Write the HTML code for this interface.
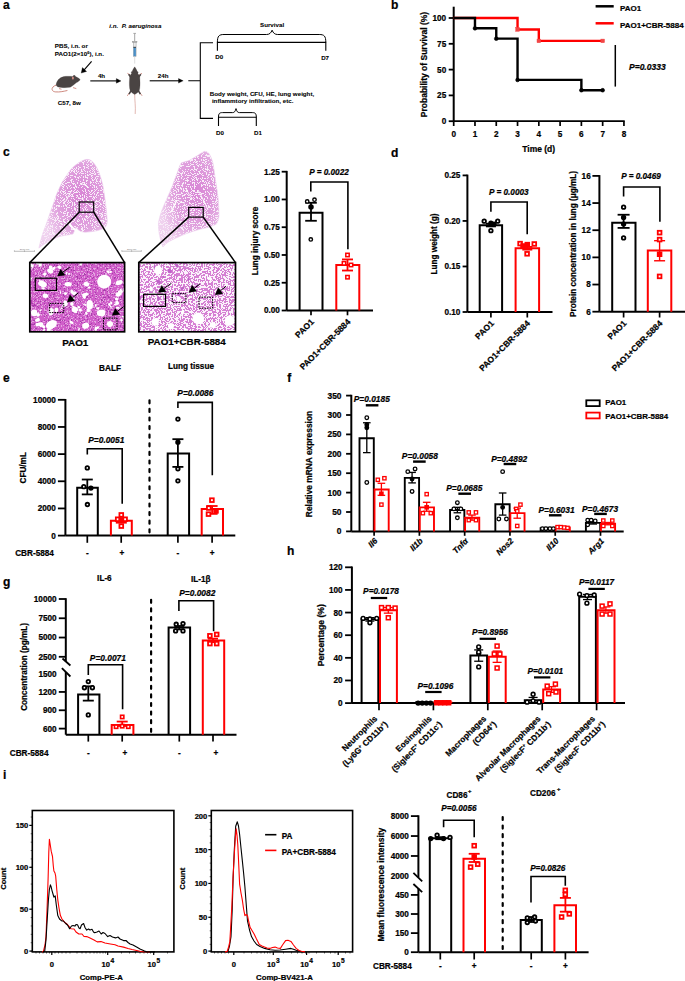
<!DOCTYPE html>
<html><head><meta charset="utf-8"><style>
html,body{margin:0;padding:0;background:#fff;}
body{width:685px;height:981px;overflow:hidden;}
svg{display:block;font-family:"Liberation Sans", sans-serif;font-weight:bold;}
text{stroke:currentColor;stroke-width:0.22px;paint-order:stroke;}
</style></head><body>
<svg width="685" height="981" viewBox="0 0 685 981">
<rect width="685" height="981" fill="#fff"/>
<text x="3" y="8.8" font-size="12" text-anchor="start" fill="#000">a</text>
<text x="391" y="8.8" font-size="12" text-anchor="start" fill="#000">b</text>
<text x="3" y="155.5" font-size="12" text-anchor="start" fill="#000">c</text>
<text x="391" y="156.5" font-size="12" text-anchor="start" fill="#000">d</text>
<text x="3" y="381.5" font-size="12" text-anchor="start" fill="#000">e</text>
<text x="287.3" y="381.5" font-size="12" text-anchor="start" fill="#000">f</text>
<text x="3" y="585.5" font-size="12" text-anchor="start" fill="#000">g</text>
<text x="287" y="554.5" font-size="12" text-anchor="start" fill="#000">h</text>
<text x="3" y="779" font-size="12" text-anchor="start" fill="#000">i</text>
<line x1="453.7" y1="6.7" x2="453.7" y2="121.2" stroke="#000" stroke-width="2"/>
<line x1="448.7" y1="121.2" x2="453.7" y2="121.2" stroke="#000" stroke-width="1.8"/>
<text x="446.2" y="124.15" font-size="8.2" text-anchor="end" fill="#000">0</text>
<line x1="448.7" y1="95.4" x2="453.7" y2="95.4" stroke="#000" stroke-width="1.8"/>
<text x="446.2" y="98.35" font-size="8.2" text-anchor="end" fill="#000">25</text>
<line x1="448.7" y1="69.6" x2="453.7" y2="69.6" stroke="#000" stroke-width="1.8"/>
<text x="446.2" y="72.55" font-size="8.2" text-anchor="end" fill="#000">50</text>
<line x1="448.7" y1="43.8" x2="453.7" y2="43.8" stroke="#000" stroke-width="1.8"/>
<text x="446.2" y="46.75" font-size="8.2" text-anchor="end" fill="#000">75</text>
<line x1="448.7" y1="18" x2="453.7" y2="18" stroke="#000" stroke-width="1.8"/>
<text x="446.2" y="20.95" font-size="8.2" text-anchor="end" fill="#000">100</text>
<line x1="453.7" y1="121.2" x2="624.74" y2="121.2" stroke="#000" stroke-width="1.7"/>
<line x1="453.7" y1="121.2" x2="453.7" y2="126" stroke="#000" stroke-width="1.7"/>
<text x="453.7" y="136.8" font-size="8.2" text-anchor="middle" fill="#000">0</text>
<line x1="474.98" y1="121.2" x2="474.98" y2="126" stroke="#000" stroke-width="1.7"/>
<text x="474.98" y="136.8" font-size="8.2" text-anchor="middle" fill="#000">1</text>
<line x1="496.26" y1="121.2" x2="496.26" y2="126" stroke="#000" stroke-width="1.7"/>
<text x="496.26" y="136.8" font-size="8.2" text-anchor="middle" fill="#000">2</text>
<line x1="517.54" y1="121.2" x2="517.54" y2="126" stroke="#000" stroke-width="1.7"/>
<text x="517.54" y="136.8" font-size="8.2" text-anchor="middle" fill="#000">3</text>
<line x1="538.82" y1="121.2" x2="538.82" y2="126" stroke="#000" stroke-width="1.7"/>
<text x="538.82" y="136.8" font-size="8.2" text-anchor="middle" fill="#000">4</text>
<line x1="560.1" y1="121.2" x2="560.1" y2="126" stroke="#000" stroke-width="1.7"/>
<text x="560.1" y="136.8" font-size="8.2" text-anchor="middle" fill="#000">5</text>
<line x1="581.38" y1="121.2" x2="581.38" y2="126" stroke="#000" stroke-width="1.7"/>
<text x="581.38" y="136.8" font-size="8.2" text-anchor="middle" fill="#000">6</text>
<line x1="602.66" y1="121.2" x2="602.66" y2="126" stroke="#000" stroke-width="1.7"/>
<text x="602.66" y="136.8" font-size="8.2" text-anchor="middle" fill="#000">7</text>
<line x1="623.94" y1="121.2" x2="623.94" y2="126" stroke="#000" stroke-width="1.7"/>
<text x="623.94" y="136.8" font-size="8.2" text-anchor="middle" fill="#000">8</text>
<text x="538.7" y="151.8" font-size="8.5" text-anchor="middle" fill="#000">Time (d)</text>
<text x="427.3" y="64.5" font-size="8.5" text-anchor="middle" fill="#000" transform="rotate(-90 427.3 64.5)">Probability of Survival (%)</text>
<path d="M453.7 18 L517.54 18 L517.54 29.46 L538.82 29.46 L538.82 40.91 L602.66 40.91" stroke="#ff0000" stroke-width="2.4" fill="none"/>
<rect x="515.74" y="27.66" width="3.6" height="3.6" stroke="#f24646" stroke-width="0.5" fill="#f24646"/>
<rect x="537.02" y="39.11" width="3.6" height="3.6" stroke="#f24646" stroke-width="0.5" fill="#f24646"/>
<rect x="600.86" y="39.11" width="3.6" height="3.6" stroke="#f24646" stroke-width="0.5" fill="#f24646"/>
<path d="M453.7 18 L474.98 18 L474.98 28.32 L496.26 28.32 L496.26 38.64 L517.54 38.64 L517.54 79.92 L581.38 79.92 L581.38 90.24 L602.66 90.24" stroke="#000" stroke-width="2.4" fill="none"/>
<circle cx="474.98" cy="28.32" r="1.87" stroke="#000" stroke-width="0.6" fill="#000"/>
<circle cx="496.26" cy="38.64" r="1.87" stroke="#000" stroke-width="0.6" fill="#000"/>
<circle cx="517.54" cy="79.92" r="1.87" stroke="#000" stroke-width="0.6" fill="#000"/>
<circle cx="581.38" cy="90.24" r="1.87" stroke="#000" stroke-width="0.6" fill="#000"/>
<circle cx="602.66" cy="90.24" r="1.87" stroke="#000" stroke-width="0.6" fill="#000"/>
<line x1="595.6" y1="6.3" x2="613.7" y2="6.3" stroke="#000" stroke-width="2.5"/>
<text x="620" y="10.9" font-size="8" text-anchor="start" fill="#000">PAO1</text>
<line x1="595.6" y1="23.3" x2="613.7" y2="23.3" stroke="#ff0000" stroke-width="2.5"/>
<text x="620" y="27.9" font-size="8" text-anchor="start" fill="#000">PAO1+CBR-5884</text>
<line x1="615.3" y1="45" x2="615.3" y2="86.6" stroke="#000" stroke-width="1.5"/>
<text x="629" y="70.3" font-size="8.5" text-anchor="start" font-style="italic" fill="#000">P=0.0333</text>
<line x1="286.7" y1="170.9" x2="286.7" y2="310.5" stroke="#000" stroke-width="2"/>
<line x1="281.7" y1="310.5" x2="286.7" y2="310.5" stroke="#000" stroke-width="1.8"/>
<text x="279.9" y="313.45" font-size="8.2" text-anchor="end" fill="#000">0.00</text>
<line x1="281.7" y1="282.74" x2="286.7" y2="282.74" stroke="#000" stroke-width="1.8"/>
<text x="279.9" y="285.69" font-size="8.2" text-anchor="end" fill="#000">0.25</text>
<line x1="281.7" y1="254.98" x2="286.7" y2="254.98" stroke="#000" stroke-width="1.8"/>
<text x="279.9" y="257.93" font-size="8.2" text-anchor="end" fill="#000">0.50</text>
<line x1="281.7" y1="227.22" x2="286.7" y2="227.22" stroke="#000" stroke-width="1.8"/>
<text x="279.9" y="230.17" font-size="8.2" text-anchor="end" fill="#000">0.75</text>
<line x1="281.7" y1="199.46" x2="286.7" y2="199.46" stroke="#000" stroke-width="1.8"/>
<text x="279.9" y="202.41" font-size="8.2" text-anchor="end" fill="#000">1.00</text>
<line x1="281.7" y1="171.7" x2="286.7" y2="171.7" stroke="#000" stroke-width="1.8"/>
<text x="279.9" y="174.65" font-size="8.2" text-anchor="end" fill="#000">1.25</text>
<line x1="286.7" y1="310.5" x2="373" y2="310.5" stroke="#000" stroke-width="2"/>
<path d="M299.6 310.5 V212.78 H322.5 V310.5" stroke="#000" stroke-width="2" fill="none" stroke-linejoin="miter"/>
<path d="M336.3 310.5 V264.97 H359.3 V310.5" stroke="#ff0000" stroke-width="2" fill="none" stroke-linejoin="miter"/>
<line x1="311" y1="310.5" x2="311" y2="315.3" stroke="#000" stroke-width="1.7"/>
<line x1="347.5" y1="310.5" x2="347.5" y2="315.3" stroke="#000" stroke-width="1.7"/>
<line x1="311" y1="220.78" x2="311" y2="202.79" stroke="#000" stroke-width="1.8"/>
<line x1="305.2" y1="202.79" x2="316.8" y2="202.79" stroke="#000" stroke-width="1.8"/>
<line x1="305.2" y1="220.78" x2="316.8" y2="220.78" stroke="#000" stroke-width="1.8"/>
<circle cx="307.2" cy="201.46" r="1.71" stroke="#000" stroke-width="1.4" fill="white"/>
<circle cx="314.5" cy="199.68" r="1.71" stroke="#000" stroke-width="1.4" fill="white"/>
<circle cx="310.8" cy="239.43" r="1.71" stroke="#000" stroke-width="1.4" fill="white"/>
<circle cx="311" cy="206.9" r="1.87" stroke="#000" stroke-width="1.8" fill="#000"/>
<line x1="347.5" y1="270.53" x2="347.5" y2="259.42" stroke="#ff0000" stroke-width="1.8"/>
<line x1="342" y1="259.42" x2="353" y2="259.42" stroke="#ff0000" stroke-width="1.8"/>
<line x1="342" y1="270.53" x2="353" y2="270.53" stroke="#ff0000" stroke-width="1.8"/>
<rect x="345.8" y="253.28" width="3.4" height="3.4" stroke="#ff0000" stroke-width="1.5" fill="white"/>
<rect x="342.3" y="261.61" width="3.4" height="3.4" stroke="#ff0000" stroke-width="1.5" fill="white"/>
<rect x="349.3" y="263.27" width="3.4" height="3.4" stroke="#ff0000" stroke-width="1.5" fill="white"/>
<rect x="345.8" y="275.49" width="3.4" height="3.4" stroke="#ff0000" stroke-width="1.5" fill="white"/>
<path d="M310.8 191.6 V182 H347.9 V249.3" stroke="#000" stroke-width="1.6" fill="none"/>
<text x="329" y="175.2" font-size="8.2" text-anchor="middle" font-style="italic" fill="#000">P = 0.0022</text>
<text x="257.5" y="241" font-size="8.2" text-anchor="middle" fill="#000" transform="rotate(-90 257.5 241)">Lung injury score</text>
<text x="314.5" y="322.5" font-size="8.5" text-anchor="end" fill="#000" transform="rotate(-45 314.5 322.5)">PAO1</text>
<text x="351" y="322.5" font-size="8.5" text-anchor="end" fill="#000" transform="rotate(-45 351 322.5)">PAO1+CBR-5884</text>
<line x1="467.4" y1="174.6" x2="467.4" y2="312" stroke="#000" stroke-width="2"/>
<line x1="462.6" y1="312" x2="467.4" y2="312" stroke="#000" stroke-width="1.8"/>
<text x="460.4" y="314.95" font-size="8.2" text-anchor="end" fill="#000">0.10</text>
<line x1="462.6" y1="266.47" x2="467.4" y2="266.47" stroke="#000" stroke-width="1.8"/>
<text x="460.4" y="269.42" font-size="8.2" text-anchor="end" fill="#000">0.15</text>
<line x1="462.6" y1="220.93" x2="467.4" y2="220.93" stroke="#000" stroke-width="1.8"/>
<text x="460.4" y="223.89" font-size="8.2" text-anchor="end" fill="#000">0.20</text>
<line x1="462.6" y1="175.4" x2="467.4" y2="175.4" stroke="#000" stroke-width="1.8"/>
<text x="460.4" y="178.35" font-size="8.2" text-anchor="end" fill="#000">0.25</text>
<line x1="467.4" y1="312" x2="552.5" y2="312" stroke="#000" stroke-width="2"/>
<path d="M479.7 312 V225.21 H502.1 V312" stroke="#000" stroke-width="2" fill="none" stroke-linejoin="miter"/>
<path d="M515.6 312 V248.25 H539.1 V312" stroke="#ff0000" stroke-width="2" fill="none" stroke-linejoin="miter"/>
<line x1="490.9" y1="312" x2="490.9" y2="317.5" stroke="#000" stroke-width="1.7"/>
<line x1="527.3" y1="312" x2="527.3" y2="317.5" stroke="#000" stroke-width="1.7"/>
<line x1="490.9" y1="226.4" x2="490.9" y2="223.67" stroke="#000" stroke-width="1.8"/>
<line x1="485.9" y1="223.67" x2="495.9" y2="223.67" stroke="#000" stroke-width="1.8"/>
<line x1="485.9" y1="226.4" x2="495.9" y2="226.4" stroke="#000" stroke-width="1.8"/>
<circle cx="484.2" cy="221.21" r="1.76" stroke="#000" stroke-width="1.8" fill="white"/>
<circle cx="497.7" cy="221.21" r="1.76" stroke="#000" stroke-width="1.8" fill="white"/>
<circle cx="490.9" cy="230.68" r="1.76" stroke="#000" stroke-width="1.8" fill="white"/>
<circle cx="490.9" cy="223.21" r="1.76" stroke="#000" stroke-width="1.8" fill="#000"/>
<circle cx="494" cy="224.12" r="1.76" stroke="#000" stroke-width="1.8" fill="#000"/>
<line x1="527.3" y1="249.62" x2="527.3" y2="246.89" stroke="#ff0000" stroke-width="1.8"/>
<line x1="522.3" y1="246.89" x2="532.3" y2="246.89" stroke="#ff0000" stroke-width="1.8"/>
<line x1="522.3" y1="249.62" x2="532.3" y2="249.62" stroke="#ff0000" stroke-width="1.8"/>
<rect x="518.25" y="241.76" width="3.7" height="3.7" stroke="#ff0000" stroke-width="1.8" fill="white"/>
<rect x="532.45" y="242.12" width="3.7" height="3.7" stroke="#ff0000" stroke-width="1.8" fill="white"/>
<rect x="525.25" y="251.96" width="3.7" height="3.7" stroke="#ff0000" stroke-width="1.8" fill="white"/>
<rect x="525.45" y="242.76" width="3.7" height="3.7" stroke="#ff0000" stroke-width="1.8" fill="#ff0000"/>
<rect x="521.15" y="244.13" width="3.7" height="3.7" stroke="#ff0000" stroke-width="1.8" fill="#ff0000"/>
<path d="M490.9 211.7 V202 H527.2 V234.2" stroke="#000" stroke-width="1.6" fill="none"/>
<text x="508.8" y="195.2" font-size="8.2" text-anchor="middle" font-style="italic" fill="#000">P = 0.0003</text>
<text x="437.2" y="244" font-size="8.2" text-anchor="middle" fill="#000" transform="rotate(-90 437.2 244)">Lung weight (g)</text>
<text x="494.5" y="324" font-size="8.5" text-anchor="end" fill="#000" transform="rotate(-45 494.5 324)">PAO1</text>
<text x="530.5" y="324" font-size="8.5" text-anchor="end" fill="#000" transform="rotate(-45 530.5 324)">PAO1+CBR-5884</text>
<line x1="599.4" y1="175.1" x2="599.4" y2="311.7" stroke="#000" stroke-width="2"/>
<line x1="592.4" y1="311.7" x2="599.4" y2="311.7" stroke="#000" stroke-width="1.8"/>
<text x="590.7" y="314.65" font-size="8.2" text-anchor="end" fill="#000">6</text>
<line x1="592.4" y1="284.54" x2="599.4" y2="284.54" stroke="#000" stroke-width="1.8"/>
<text x="590.7" y="287.49" font-size="8.2" text-anchor="end" fill="#000">8</text>
<line x1="592.4" y1="257.38" x2="599.4" y2="257.38" stroke="#000" stroke-width="1.8"/>
<text x="590.7" y="260.33" font-size="8.2" text-anchor="end" fill="#000">10</text>
<line x1="592.4" y1="230.22" x2="599.4" y2="230.22" stroke="#000" stroke-width="1.8"/>
<text x="590.7" y="233.17" font-size="8.2" text-anchor="end" fill="#000">12</text>
<line x1="592.4" y1="203.06" x2="599.4" y2="203.06" stroke="#000" stroke-width="1.8"/>
<text x="590.7" y="206.01" font-size="8.2" text-anchor="end" fill="#000">14</text>
<line x1="592.4" y1="175.9" x2="599.4" y2="175.9" stroke="#000" stroke-width="1.8"/>
<text x="590.7" y="178.85" font-size="8.2" text-anchor="end" fill="#000">16</text>
<line x1="599.4" y1="311.7" x2="686" y2="311.7" stroke="#000" stroke-width="2"/>
<path d="M612.2 311.7 V222.75 H635.5 V311.7" stroke="#000" stroke-width="2" fill="none" stroke-linejoin="miter"/>
<path d="M647.8 311.7 V250.59 H671.3 V311.7" stroke="#ff0000" stroke-width="2" fill="none" stroke-linejoin="miter"/>
<line x1="623.6" y1="311.7" x2="623.6" y2="317.5" stroke="#000" stroke-width="1.7"/>
<line x1="659.6" y1="311.7" x2="659.6" y2="317.5" stroke="#000" stroke-width="1.7"/>
<line x1="623.6" y1="227.91" x2="623.6" y2="214.74" stroke="#000" stroke-width="1.8"/>
<line x1="617.6" y1="214.74" x2="629.6" y2="214.74" stroke="#000" stroke-width="1.8"/>
<line x1="617.6" y1="227.91" x2="629.6" y2="227.91" stroke="#000" stroke-width="1.8"/>
<circle cx="623.6" cy="207.13" r="1.76" stroke="#000" stroke-width="1.8" fill="white"/>
<circle cx="623.6" cy="217.45" r="1.76" stroke="#000" stroke-width="1.8" fill="#000"/>
<circle cx="623.6" cy="224.11" r="1.76" stroke="#000" stroke-width="1.8" fill="#000"/>
<circle cx="623.6" cy="237.96" r="1.76" stroke="#000" stroke-width="1.8" fill="white"/>
<line x1="659.6" y1="260.77" x2="659.6" y2="240.68" stroke="#ff0000" stroke-width="1.4"/>
<line x1="654.1" y1="240.68" x2="665.1" y2="240.68" stroke="#ff0000" stroke-width="1.4"/>
<line x1="654.1" y1="260.77" x2="665.1" y2="260.77" stroke="#ff0000" stroke-width="1.4"/>
<rect x="657.75" y="230.81" width="3.7" height="3.7" stroke="#ff0000" stroke-width="1.8" fill="white"/>
<rect x="657.75" y="237.74" width="3.7" height="3.7" stroke="#ff0000" stroke-width="1.8" fill="white"/>
<rect x="657.75" y="274.54" width="3.7" height="3.7" stroke="#ff0000" stroke-width="1.8" fill="white"/>
<rect x="657.75" y="252.41" width="3.7" height="3.7" stroke="#ff0000" stroke-width="1.8" fill="#ff0000"/>
<path d="M623.6 196.4 V187 H659.9 V221.8" stroke="#000" stroke-width="1.6" fill="none"/>
<text x="641" y="179.3" font-size="8.2" text-anchor="middle" font-style="italic" fill="#000">P = 0.0469</text>
<text x="575.5" y="244" font-size="8.2" text-anchor="middle" fill="#000" transform="rotate(-90 575.5 244)">Protein concentration in lung (μg/mL)</text>
<text x="627" y="324" font-size="8.5" text-anchor="end" fill="#000" transform="rotate(-45 627 324)">PAO1</text>
<text x="663" y="324" font-size="8.5" text-anchor="end" fill="#000" transform="rotate(-45 663 324)">PAO1+CBR-5884</text>
<line x1="65.4" y1="399" x2="65.4" y2="535.6" stroke="#000" stroke-width="2"/>
<line x1="57.9" y1="535.6" x2="65.4" y2="535.6" stroke="#000" stroke-width="1.8"/>
<text x="55.9" y="538.55" font-size="8.2" text-anchor="end" fill="#000">0</text>
<line x1="57.9" y1="508.44" x2="65.4" y2="508.44" stroke="#000" stroke-width="1.8"/>
<text x="55.9" y="511.39" font-size="8.2" text-anchor="end" fill="#000">2000</text>
<line x1="57.9" y1="481.28" x2="65.4" y2="481.28" stroke="#000" stroke-width="1.8"/>
<text x="55.9" y="484.23" font-size="8.2" text-anchor="end" fill="#000">4000</text>
<line x1="57.9" y1="454.12" x2="65.4" y2="454.12" stroke="#000" stroke-width="1.8"/>
<text x="55.9" y="457.07" font-size="8.2" text-anchor="end" fill="#000">6000</text>
<line x1="57.9" y1="426.96" x2="65.4" y2="426.96" stroke="#000" stroke-width="1.8"/>
<text x="55.9" y="429.91" font-size="8.2" text-anchor="end" fill="#000">8000</text>
<line x1="57.9" y1="399.8" x2="65.4" y2="399.8" stroke="#000" stroke-width="1.8"/>
<text x="55.9" y="402.75" font-size="8.2" text-anchor="end" fill="#000">10000</text>
<line x1="65.4" y1="535.6" x2="235.3" y2="535.6" stroke="#000" stroke-width="2"/>
<path d="M77.2 535.6 V487.7 H97.8 V535.6" stroke="#000" stroke-width="2" fill="none" stroke-linejoin="miter"/>
<path d="M110.9 535.6 V520.66 H131.8 V535.6" stroke="#ff0000" stroke-width="2" fill="none" stroke-linejoin="miter"/>
<path d="M167.7 535.6 V453.44 H189.1 V535.6" stroke="#000" stroke-width="2" fill="none" stroke-linejoin="miter"/>
<path d="M201.7 535.6 V509.12 H223 V535.6" stroke="#ff0000" stroke-width="2" fill="none" stroke-linejoin="miter"/>
<line x1="149.5" y1="400.3" x2="149.5" y2="535.6" stroke="#000" stroke-width="2.2" stroke-dasharray="3.0 5.6" stroke-linecap="round"/>
<line x1="87.3" y1="535.6" x2="87.3" y2="542.8" stroke="#000" stroke-width="1.7"/>
<line x1="121.2" y1="535.6" x2="121.2" y2="542.8" stroke="#000" stroke-width="1.7"/>
<line x1="177.9" y1="535.6" x2="177.9" y2="542.8" stroke="#000" stroke-width="1.7"/>
<line x1="212.1" y1="535.6" x2="212.1" y2="542.8" stroke="#000" stroke-width="1.7"/>
<line x1="87.3" y1="494.4" x2="87.3" y2="479.51" stroke="#000" stroke-width="1.8"/>
<line x1="81.8" y1="479.51" x2="92.8" y2="479.51" stroke="#000" stroke-width="1.8"/>
<line x1="81.8" y1="494.4" x2="92.8" y2="494.4" stroke="#000" stroke-width="1.8"/>
<circle cx="87.3" cy="467.9" r="1.76" stroke="#000" stroke-width="1.8" fill="white"/>
<circle cx="83.8" cy="486.71" r="1.76" stroke="#000" stroke-width="1.8" fill="white"/>
<circle cx="90.9" cy="488.07" r="1.76" stroke="#000" stroke-width="1.8" fill="#000"/>
<circle cx="87.4" cy="504.5" r="1.76" stroke="#000" stroke-width="1.8" fill="white"/>
<line x1="121.3" y1="522.7" x2="121.3" y2="518.22" stroke="#ff0000" stroke-width="1.8"/>
<line x1="115.8" y1="518.22" x2="126.8" y2="518.22" stroke="#ff0000" stroke-width="1.8"/>
<line x1="115.8" y1="522.7" x2="126.8" y2="522.7" stroke="#ff0000" stroke-width="1.8"/>
<rect x="119.45" y="513.05" width="3.7" height="3.7" stroke="#ff0000" stroke-width="1.8" fill="white"/>
<rect x="115.85" y="517.39" width="3.7" height="3.7" stroke="#ff0000" stroke-width="1.8" fill="white"/>
<rect x="123.25" y="517.39" width="3.7" height="3.7" stroke="#ff0000" stroke-width="1.8" fill="white"/>
<rect x="119.45" y="524.24" width="3.7" height="3.7" stroke="#ff0000" stroke-width="1.8" fill="white"/>
<rect x="119.45" y="518.13" width="3.7" height="3.7" stroke="#ff0000" stroke-width="1.8" fill="#ff0000"/>
<line x1="177.9" y1="466.89" x2="177.9" y2="439.18" stroke="#000" stroke-width="1.8"/>
<line x1="172.4" y1="439.18" x2="183.4" y2="439.18" stroke="#000" stroke-width="1.8"/>
<line x1="172.4" y1="466.89" x2="183.4" y2="466.89" stroke="#000" stroke-width="1.8"/>
<circle cx="177.9" cy="419.08" r="1.76" stroke="#000" stroke-width="1.8" fill="white"/>
<circle cx="177.9" cy="468.79" r="1.76" stroke="#000" stroke-width="1.8" fill="white"/>
<circle cx="177.9" cy="480.87" r="1.76" stroke="#000" stroke-width="1.8" fill="white"/>
<circle cx="177.9" cy="442.17" r="1.76" stroke="#000" stroke-width="1.8" fill="#000"/>
<line x1="212.1" y1="513.87" x2="212.1" y2="506" stroke="#ff0000" stroke-width="1.8"/>
<line x1="206.6" y1="506" x2="217.6" y2="506" stroke="#ff0000" stroke-width="1.8"/>
<line x1="206.6" y1="513.87" x2="217.6" y2="513.87" stroke="#ff0000" stroke-width="1.8"/>
<rect x="210.05" y="498.31" width="3.7" height="3.7" stroke="#ff0000" stroke-width="1.8" fill="white"/>
<rect x="206.95" y="506.18" width="3.7" height="3.7" stroke="#ff0000" stroke-width="1.8" fill="white"/>
<rect x="206.65" y="512.29" width="3.7" height="3.7" stroke="#ff0000" stroke-width="1.8" fill="white"/>
<rect x="214.15" y="509.03" width="3.7" height="3.7" stroke="#ff0000" stroke-width="1.8" fill="#ff0000"/>
<path d="M87.3 454.4 V448.7 H122.2 V503.7" stroke="#000" stroke-width="1.6" fill="none"/>
<text x="106.3" y="443.2" font-size="8.4" text-anchor="middle" font-style="italic" fill="#000">P=0.0051</text>
<path d="M177.9 408 V402.4 H212.3 V475.2" stroke="#000" stroke-width="1.6" fill="none"/>
<text x="195.4" y="395.5" font-size="8.4" text-anchor="middle" font-style="italic" fill="#000">P=0.0086</text>
<text x="110" y="371.2" font-size="8.2" text-anchor="middle" fill="#000">BALF</text>
<text x="191" y="369.3" font-size="8.2" text-anchor="middle" fill="#000">Lung tissue</text>
<text x="26.5" y="467.8" font-size="8.2" text-anchor="middle" fill="#000" transform="rotate(-90 26.5 467.8)">CFU/mL</text>
<text x="15.2" y="555.6" font-size="8.2" text-anchor="start" fill="#000">CBR-5884</text>
<text x="87.3" y="555.6" font-size="8.2" text-anchor="middle" fill="#000">-</text>
<text x="121.8" y="555.6" font-size="8.2" text-anchor="middle" fill="#000">+</text>
<text x="177.9" y="555.6" font-size="8.2" text-anchor="middle" fill="#000">-</text>
<text x="212.1" y="555.6" font-size="8.2" text-anchor="middle" fill="#000">+</text>
<line x1="351.3" y1="394.8" x2="351.3" y2="531.4" stroke="#000" stroke-width="2"/>
<line x1="346.1" y1="531.4" x2="351.3" y2="531.4" stroke="#000" stroke-width="1.8"/>
<text x="341.5" y="534.42" font-size="8.4" text-anchor="end" fill="#000">0</text>
<line x1="346.1" y1="512" x2="351.3" y2="512" stroke="#000" stroke-width="1.8"/>
<text x="341.5" y="515.02" font-size="8.4" text-anchor="end" fill="#000">50</text>
<line x1="346.1" y1="492.6" x2="351.3" y2="492.6" stroke="#000" stroke-width="1.8"/>
<text x="341.5" y="495.62" font-size="8.4" text-anchor="end" fill="#000">100</text>
<line x1="346.1" y1="473.2" x2="351.3" y2="473.2" stroke="#000" stroke-width="1.8"/>
<text x="341.5" y="476.22" font-size="8.4" text-anchor="end" fill="#000">150</text>
<line x1="346.1" y1="453.8" x2="351.3" y2="453.8" stroke="#000" stroke-width="1.8"/>
<text x="341.5" y="456.82" font-size="8.4" text-anchor="end" fill="#000">200</text>
<line x1="346.1" y1="434.4" x2="351.3" y2="434.4" stroke="#000" stroke-width="1.8"/>
<text x="341.5" y="437.42" font-size="8.4" text-anchor="end" fill="#000">250</text>
<line x1="346.1" y1="415" x2="351.3" y2="415" stroke="#000" stroke-width="1.8"/>
<text x="341.5" y="418.02" font-size="8.4" text-anchor="end" fill="#000">300</text>
<line x1="346.1" y1="395.6" x2="351.3" y2="395.6" stroke="#000" stroke-width="1.8"/>
<text x="341.5" y="398.62" font-size="8.4" text-anchor="end" fill="#000">350</text>
<line x1="351.3" y1="531.4" x2="623.7" y2="531.4" stroke="#000" stroke-width="2"/>
<path d="M359.5 531.4 V438.28 H373.8 V531.4" stroke="#000" stroke-width="1.9" fill="none" stroke-linejoin="miter"/>
<path d="M374.5 531.4 V489.5 H388.7 V531.4" stroke="#ff0000" stroke-width="1.9" fill="none" stroke-linejoin="miter"/>
<line x1="374.1" y1="531.4" x2="374.1" y2="535.8" stroke="#000" stroke-width="1.7"/>
<line x1="366.8" y1="452.64" x2="366.8" y2="422.76" stroke="#000" stroke-width="1.3"/>
<line x1="363" y1="422.76" x2="370.6" y2="422.76" stroke="#000" stroke-width="1.3"/>
<line x1="363" y1="452.64" x2="370.6" y2="452.64" stroke="#000" stroke-width="1.3"/>
<line x1="381.4" y1="495.32" x2="381.4" y2="483.29" stroke="#ff0000" stroke-width="1.3"/>
<line x1="377.6" y1="483.29" x2="385.2" y2="483.29" stroke="#ff0000" stroke-width="1.3"/>
<line x1="377.6" y1="495.32" x2="385.2" y2="495.32" stroke="#ff0000" stroke-width="1.3"/>
<circle cx="366.8" cy="417.72" r="1.81" stroke="#000" stroke-width="1.3" fill="white"/>
<circle cx="366.8" cy="427.8" r="1.81" stroke="#000" stroke-width="1.3" fill="#000"/>
<circle cx="366.8" cy="424.7" r="1.81" stroke="#000" stroke-width="1.3" fill="#000"/>
<circle cx="366.8" cy="482.51" r="1.81" stroke="#000" stroke-width="1.3" fill="white"/>
<rect x="376.15" y="478.15" width="3.3" height="3.3" stroke="#ff0000" stroke-width="1.3" fill="white"/>
<rect x="382.75" y="476.59" width="3.3" height="3.3" stroke="#ff0000" stroke-width="1.3" fill="white"/>
<rect x="379.75" y="492.11" width="3.3" height="3.3" stroke="#ff0000" stroke-width="1.3" fill="#ff0000"/>
<rect x="379.75" y="502.98" width="3.3" height="3.3" stroke="#ff0000" stroke-width="1.3" fill="white"/>
<text x="371.8" y="402.3" font-size="8.4" text-anchor="middle" font-style="italic" fill="#000">P=0.0185</text>
<line x1="365.8" y1="405.3" x2="378.4" y2="405.3" stroke="#000" stroke-width="2.4"/>
<text x="378.1" y="541.5" font-size="8.3" text-anchor="end" fill="#000" transform="rotate(-45 378.1 541.5)"><tspan font-style="italic">Il6</tspan></text>
<path d="M404.78 531.4 V477.86 H419.08 V531.4" stroke="#000" stroke-width="1.9" fill="none" stroke-linejoin="miter"/>
<path d="M419.78 531.4 V507.34 H433.98 V531.4" stroke="#ff0000" stroke-width="1.9" fill="none" stroke-linejoin="miter"/>
<line x1="419.38" y1="531.4" x2="419.38" y2="535.8" stroke="#000" stroke-width="1.7"/>
<line x1="412.08" y1="482.9" x2="412.08" y2="472.42" stroke="#000" stroke-width="1.3"/>
<line x1="408.28" y1="472.42" x2="415.88" y2="472.42" stroke="#000" stroke-width="1.3"/>
<line x1="408.28" y1="482.9" x2="415.88" y2="482.9" stroke="#000" stroke-width="1.3"/>
<line x1="426.68" y1="511.22" x2="426.68" y2="502.3" stroke="#ff0000" stroke-width="1.3"/>
<line x1="422.88" y1="502.3" x2="430.48" y2="502.3" stroke="#ff0000" stroke-width="1.3"/>
<line x1="422.88" y1="511.22" x2="430.48" y2="511.22" stroke="#ff0000" stroke-width="1.3"/>
<circle cx="407.78" cy="471.65" r="1.81" stroke="#000" stroke-width="1.3" fill="white"/>
<circle cx="415.08" cy="468.93" r="1.81" stroke="#000" stroke-width="1.3" fill="white"/>
<circle cx="412.08" cy="479.02" r="1.81" stroke="#000" stroke-width="1.3" fill="#000"/>
<circle cx="412.08" cy="491.44" r="1.81" stroke="#000" stroke-width="1.3" fill="white"/>
<rect x="425.03" y="492.5" width="3.3" height="3.3" stroke="#ff0000" stroke-width="1.3" fill="white"/>
<rect x="421.23" y="511.51" width="3.3" height="3.3" stroke="#ff0000" stroke-width="1.3" fill="white"/>
<rect x="429.13" y="511.51" width="3.3" height="3.3" stroke="#ff0000" stroke-width="1.3" fill="white"/>
<rect x="425.03" y="505.69" width="3.3" height="3.3" stroke="#ff0000" stroke-width="1.3" fill="#ff0000"/>
<text x="419.9" y="458.7" font-size="8.4" text-anchor="middle" font-style="italic" fill="#000">P=0.0058</text>
<line x1="413.08" y1="461.6" x2="425.68" y2="461.6" stroke="#000" stroke-width="2.4"/>
<text x="423.38" y="541.5" font-size="8.3" text-anchor="end" fill="#000" transform="rotate(-45 423.38 541.5)"><tspan font-style="italic">Il1b</tspan></text>
<path d="M450.06 531.4 V510.06 H464.36 V531.4" stroke="#000" stroke-width="1.9" fill="none" stroke-linejoin="miter"/>
<path d="M465.06 531.4 V517.82 H479.26 V531.4" stroke="#ff0000" stroke-width="1.9" fill="none" stroke-linejoin="miter"/>
<line x1="464.66" y1="531.4" x2="464.66" y2="535.8" stroke="#000" stroke-width="1.7"/>
<line x1="457.36" y1="512.78" x2="457.36" y2="507.34" stroke="#000" stroke-width="1.3"/>
<line x1="453.56" y1="507.34" x2="461.16" y2="507.34" stroke="#000" stroke-width="1.3"/>
<line x1="453.56" y1="512.78" x2="461.16" y2="512.78" stroke="#000" stroke-width="1.3"/>
<line x1="471.96" y1="520.15" x2="471.96" y2="515.1" stroke="#ff0000" stroke-width="1.3"/>
<line x1="468.16" y1="515.1" x2="475.76" y2="515.1" stroke="#ff0000" stroke-width="1.3"/>
<line x1="468.16" y1="520.15" x2="475.76" y2="520.15" stroke="#ff0000" stroke-width="1.3"/>
<circle cx="457.36" cy="502.69" r="1.81" stroke="#000" stroke-width="1.3" fill="white"/>
<circle cx="453.86" cy="508.9" r="1.81" stroke="#000" stroke-width="1.3" fill="white"/>
<circle cx="460.86" cy="508.9" r="1.81" stroke="#000" stroke-width="1.3" fill="white"/>
<circle cx="457.36" cy="517.82" r="1.81" stroke="#000" stroke-width="1.3" fill="white"/>
<rect x="467.11" y="510.74" width="3.3" height="3.3" stroke="#ff0000" stroke-width="1.3" fill="white"/>
<rect x="474.31" y="510.74" width="3.3" height="3.3" stroke="#ff0000" stroke-width="1.3" fill="white"/>
<rect x="467.11" y="518.5" width="3.3" height="3.3" stroke="#ff0000" stroke-width="1.3" fill="white"/>
<rect x="474.31" y="518.5" width="3.3" height="3.3" stroke="#ff0000" stroke-width="1.3" fill="white"/>
<text x="464.3" y="490.8" font-size="8.4" text-anchor="middle" font-style="italic" fill="#000">P=0.0685</text>
<line x1="458.36" y1="493.7" x2="470.96" y2="493.7" stroke="#000" stroke-width="2.4"/>
<text x="468.66" y="541.5" font-size="8.3" text-anchor="end" fill="#000" transform="rotate(-45 468.66 541.5)"><tspan font-style="italic">Tnfα</tspan></text>
<path d="M495.34 531.4 V504.24 H509.64 V531.4" stroke="#000" stroke-width="1.9" fill="none" stroke-linejoin="miter"/>
<path d="M510.34 531.4 V513.16 H524.54 V531.4" stroke="#ff0000" stroke-width="1.9" fill="none" stroke-linejoin="miter"/>
<line x1="509.94" y1="531.4" x2="509.94" y2="535.8" stroke="#000" stroke-width="1.7"/>
<line x1="502.64" y1="515.1" x2="502.64" y2="492.99" stroke="#000" stroke-width="1.3"/>
<line x1="498.84" y1="492.99" x2="506.44" y2="492.99" stroke="#000" stroke-width="1.3"/>
<line x1="498.84" y1="515.1" x2="506.44" y2="515.1" stroke="#000" stroke-width="1.3"/>
<line x1="517.24" y1="518.21" x2="517.24" y2="508.12" stroke="#ff0000" stroke-width="1.3"/>
<line x1="513.44" y1="508.12" x2="521.04" y2="508.12" stroke="#ff0000" stroke-width="1.3"/>
<line x1="513.44" y1="518.21" x2="521.04" y2="518.21" stroke="#ff0000" stroke-width="1.3"/>
<circle cx="502.64" cy="471.65" r="1.81" stroke="#000" stroke-width="1.3" fill="white"/>
<circle cx="498.84" cy="518.98" r="1.81" stroke="#000" stroke-width="1.3" fill="white"/>
<circle cx="506.44" cy="518.98" r="1.81" stroke="#000" stroke-width="1.3" fill="white"/>
<circle cx="502.64" cy="507.34" r="1.81" stroke="#000" stroke-width="1.3" fill="#000"/>
<rect x="518.79" y="502.98" width="3.3" height="3.3" stroke="#ff0000" stroke-width="1.3" fill="white"/>
<rect x="514.59" y="507.25" width="3.3" height="3.3" stroke="#ff0000" stroke-width="1.3" fill="white"/>
<rect x="515.59" y="524.32" width="3.3" height="3.3" stroke="#ff0000" stroke-width="1.3" fill="white"/>
<rect x="515.59" y="509.57" width="3.3" height="3.3" stroke="#ff0000" stroke-width="1.3" fill="white"/>
<text x="509.2" y="462.2" font-size="8.4" text-anchor="middle" font-style="italic" fill="#000">P=0.4892</text>
<line x1="503.64" y1="464" x2="516.24" y2="464" stroke="#000" stroke-width="2.4"/>
<text x="513.94" y="541.5" font-size="8.3" text-anchor="end" fill="#000" transform="rotate(-45 513.94 541.5)"><tspan font-style="italic">Nos2</tspan></text>
<path d="M540.62 531.4 V528.3 H554.92 V531.4" stroke="#000" stroke-width="1.9" fill="none" stroke-linejoin="miter"/>
<path d="M555.62 531.4 V527.52 H569.82 V531.4" stroke="#ff0000" stroke-width="1.9" fill="none" stroke-linejoin="miter"/>
<line x1="555.22" y1="531.4" x2="555.22" y2="535.8" stroke="#000" stroke-width="1.7"/>
<line x1="547.92" y1="529.07" x2="547.92" y2="527.52" stroke="#000" stroke-width="1.3"/>
<line x1="544.12" y1="527.52" x2="551.72" y2="527.52" stroke="#000" stroke-width="1.3"/>
<line x1="544.12" y1="529.07" x2="551.72" y2="529.07" stroke="#000" stroke-width="1.3"/>
<line x1="562.52" y1="528.3" x2="562.52" y2="526.74" stroke="#ff0000" stroke-width="1.3"/>
<line x1="558.72" y1="526.74" x2="566.32" y2="526.74" stroke="#ff0000" stroke-width="1.3"/>
<line x1="558.72" y1="528.3" x2="566.32" y2="528.3" stroke="#ff0000" stroke-width="1.3"/>
<circle cx="542.42" cy="528.68" r="1.81" stroke="#000" stroke-width="1.3" fill="white"/>
<circle cx="545.92" cy="528.68" r="1.81" stroke="#000" stroke-width="1.3" fill="white"/>
<circle cx="549.92" cy="528.68" r="1.81" stroke="#000" stroke-width="1.3" fill="white"/>
<circle cx="553.42" cy="528.68" r="1.81" stroke="#000" stroke-width="1.3" fill="white"/>
<rect x="555.87" y="525.48" width="3.3" height="3.3" stroke="#ff0000" stroke-width="1.3" fill="white"/>
<rect x="559.17" y="525.48" width="3.3" height="3.3" stroke="#ff0000" stroke-width="1.3" fill="white"/>
<rect x="562.57" y="525.87" width="3.3" height="3.3" stroke="#ff0000" stroke-width="1.3" fill="white"/>
<rect x="565.87" y="526.26" width="3.3" height="3.3" stroke="#ff0000" stroke-width="1.3" fill="white"/>
<text x="556.5" y="513.3" font-size="8.4" text-anchor="middle" font-style="italic" fill="#000">P=0.6031</text>
<line x1="548.92" y1="515.3" x2="561.52" y2="515.3" stroke="#000" stroke-width="2.4"/>
<text x="559.22" y="541.5" font-size="8.3" text-anchor="end" fill="#000" transform="rotate(-45 559.22 541.5)"><tspan font-style="italic">Il10</tspan></text>
<path d="M585.9 531.4 V522.86 H600.2 V531.4" stroke="#000" stroke-width="1.9" fill="none" stroke-linejoin="miter"/>
<path d="M600.9 531.4 V523.64 H615.1 V531.4" stroke="#ff0000" stroke-width="1.9" fill="none" stroke-linejoin="miter"/>
<line x1="600.5" y1="531.4" x2="600.5" y2="535.8" stroke="#000" stroke-width="1.7"/>
<line x1="593.2" y1="524.03" x2="593.2" y2="521.7" stroke="#000" stroke-width="1.3"/>
<line x1="589.4" y1="521.7" x2="597" y2="521.7" stroke="#000" stroke-width="1.3"/>
<line x1="589.4" y1="524.03" x2="597" y2="524.03" stroke="#000" stroke-width="1.3"/>
<line x1="607.8" y1="524.8" x2="607.8" y2="522.48" stroke="#ff0000" stroke-width="1.3"/>
<line x1="604" y1="522.48" x2="611.6" y2="522.48" stroke="#ff0000" stroke-width="1.3"/>
<line x1="604" y1="524.8" x2="611.6" y2="524.8" stroke="#ff0000" stroke-width="1.3"/>
<circle cx="587.7" cy="520.15" r="1.81" stroke="#000" stroke-width="1.3" fill="white"/>
<circle cx="591.2" cy="520.15" r="1.81" stroke="#000" stroke-width="1.3" fill="white"/>
<circle cx="595.2" cy="520.92" r="1.81" stroke="#000" stroke-width="1.3" fill="white"/>
<circle cx="587.7" cy="524.8" r="1.81" stroke="#000" stroke-width="1.3" fill="white"/>
<rect x="601.65" y="518.89" width="3.3" height="3.3" stroke="#ff0000" stroke-width="1.3" fill="white"/>
<rect x="610.65" y="518.89" width="3.3" height="3.3" stroke="#ff0000" stroke-width="1.3" fill="white"/>
<rect x="601.65" y="524.32" width="3.3" height="3.3" stroke="#ff0000" stroke-width="1.3" fill="white"/>
<rect x="610.65" y="524.32" width="3.3" height="3.3" stroke="#ff0000" stroke-width="1.3" fill="white"/>
<text x="600" y="511.8" font-size="8.4" text-anchor="middle" font-style="italic" fill="#000">P=0.4673</text>
<line x1="594.2" y1="513.9" x2="606.8" y2="513.9" stroke="#000" stroke-width="2.4"/>
<text x="604.5" y="541.5" font-size="8.3" text-anchor="end" fill="#000" transform="rotate(-45 604.5 541.5)"><tspan font-style="italic">Arg1</tspan></text>
<text x="312" y="464" font-size="8.4" text-anchor="middle" fill="#000" transform="rotate(-90 312 464)">Relative mRNA expression</text>
<rect x="586.3" y="400.3" width="13.4" height="5.8" stroke="#000" stroke-width="1.8" fill="none"/>
<text x="605.3" y="405.4" font-size="7.9" text-anchor="start" fill="#000">PAO1</text>
<rect x="586.3" y="412.6" width="13.4" height="5.8" stroke="#ff0000" stroke-width="1.8" fill="none"/>
<text x="605.3" y="419.3" font-size="7.9" text-anchor="start" fill="#000">PAO1+CBR-5884</text>
<line x1="65.8" y1="598.2" x2="65.8" y2="661.4" stroke="#000" stroke-width="2"/>
<line x1="58.8" y1="599" x2="65.8" y2="599" stroke="#000" stroke-width="1.8"/>
<text x="56.6" y="601.95" font-size="8.2" text-anchor="end" fill="#000">10000</text>
<line x1="58.8" y1="618.27" x2="65.8" y2="618.27" stroke="#000" stroke-width="1.8"/>
<text x="56.6" y="621.22" font-size="8.2" text-anchor="end" fill="#000">7500</text>
<line x1="58.8" y1="637.53" x2="65.8" y2="637.53" stroke="#000" stroke-width="1.8"/>
<text x="56.6" y="640.49" font-size="8.2" text-anchor="end" fill="#000">5000</text>
<line x1="58.8" y1="656.8" x2="65.8" y2="656.8" stroke="#000" stroke-width="1.8"/>
<text x="56.6" y="659.75" font-size="8.2" text-anchor="end" fill="#000">2500</text>
<line x1="65.8" y1="672" x2="65.8" y2="734.7" stroke="#000" stroke-width="2"/>
<text x="56.6" y="676.56" font-size="8.2" text-anchor="end" fill="#000">1500</text>
<line x1="58.8" y1="691.94" x2="65.8" y2="691.94" stroke="#000" stroke-width="1.8"/>
<text x="56.6" y="694.89" font-size="8.2" text-anchor="end" fill="#000">1200</text>
<line x1="58.8" y1="710.27" x2="65.8" y2="710.27" stroke="#000" stroke-width="1.8"/>
<text x="56.6" y="713.22" font-size="8.2" text-anchor="end" fill="#000">900</text>
<line x1="58.8" y1="728.6" x2="65.8" y2="728.6" stroke="#000" stroke-width="1.8"/>
<text x="56.6" y="731.55" font-size="8.2" text-anchor="end" fill="#000">600</text>
<line x1="62.5" y1="658.5" x2="70.4" y2="665.5" stroke="#000" stroke-width="1.8"/>
<line x1="61.9" y1="668.1" x2="70.4" y2="676.5" stroke="#000" stroke-width="1.8"/>
<line x1="65.8" y1="734.7" x2="236.5" y2="734.7" stroke="#000" stroke-width="2"/>
<path d="M78.1 734.7 V694.51 H99.4 V734.7" stroke="#000" stroke-width="2" fill="none" stroke-linejoin="miter"/>
<path d="M111.7 734.7 V724.93 H133.4 V734.7" stroke="#ff0000" stroke-width="2" fill="none" stroke-linejoin="miter"/>
<path d="M168.6 734.7 V627.6 H190.1 V734.7" stroke="#000" stroke-width="2" fill="none" stroke-linejoin="miter"/>
<path d="M202.8 734.7 V640.5 H224.2 V734.7" stroke="#ff0000" stroke-width="2" fill="none" stroke-linejoin="miter"/>
<line x1="151.1" y1="599.8" x2="151.1" y2="734.7" stroke="#000" stroke-width="2.2" stroke-dasharray="3.0 5.6" stroke-linecap="round"/>
<line x1="88.3" y1="734.7" x2="88.3" y2="741.6" stroke="#000" stroke-width="1.7"/>
<line x1="122.2" y1="734.7" x2="122.2" y2="741.6" stroke="#000" stroke-width="1.7"/>
<line x1="179.3" y1="734.7" x2="179.3" y2="741.6" stroke="#000" stroke-width="1.7"/>
<line x1="213" y1="734.7" x2="213" y2="741.6" stroke="#000" stroke-width="1.7"/>
<line x1="88.3" y1="700.62" x2="88.3" y2="686.32" stroke="#000" stroke-width="1.8"/>
<line x1="82.8" y1="686.32" x2="93.8" y2="686.32" stroke="#000" stroke-width="1.8"/>
<line x1="82.8" y1="700.62" x2="93.8" y2="700.62" stroke="#000" stroke-width="1.8"/>
<circle cx="88.3" cy="681.61" r="1.76" stroke="#000" stroke-width="1.8" fill="white"/>
<circle cx="84.4" cy="687.72" r="1.76" stroke="#000" stroke-width="1.8" fill="white"/>
<circle cx="92.4" cy="687.72" r="1.76" stroke="#000" stroke-width="1.8" fill="white"/>
<circle cx="88.3" cy="714.91" r="1.76" stroke="#000" stroke-width="1.8" fill="white"/>
<line x1="122.2" y1="725.97" x2="122.2" y2="721.57" stroke="#ff0000" stroke-width="1.8"/>
<line x1="116.7" y1="721.57" x2="127.7" y2="721.57" stroke="#ff0000" stroke-width="1.8"/>
<line x1="116.7" y1="725.97" x2="127.7" y2="725.97" stroke="#ff0000" stroke-width="1.8"/>
<rect x="120.55" y="715.28" width="3.3" height="3.3" stroke="#ff0000" stroke-width="1.6" fill="white"/>
<rect x="114.45" y="725.06" width="3.3" height="3.3" stroke="#ff0000" stroke-width="1.6" fill="white"/>
<rect x="120.55" y="724.51" width="3.3" height="3.3" stroke="#ff0000" stroke-width="1.6" fill="white"/>
<rect x="126.65" y="725.06" width="3.3" height="3.3" stroke="#ff0000" stroke-width="1.6" fill="white"/>
<line x1="179.3" y1="629.44" x2="179.3" y2="625.97" stroke="#000" stroke-width="1.8"/>
<line x1="174.3" y1="625.97" x2="184.3" y2="625.97" stroke="#000" stroke-width="1.8"/>
<line x1="174.3" y1="629.44" x2="184.3" y2="629.44" stroke="#000" stroke-width="1.8"/>
<circle cx="176.2" cy="624.28" r="1.76" stroke="#000" stroke-width="1.8" fill="white"/>
<circle cx="183" cy="623.59" r="1.76" stroke="#000" stroke-width="1.8" fill="white"/>
<circle cx="175.6" cy="630.91" r="1.76" stroke="#000" stroke-width="1.8" fill="white"/>
<circle cx="183" cy="630.91" r="1.76" stroke="#000" stroke-width="1.8" fill="white"/>
<line x1="213" y1="642.16" x2="213" y2="638.69" stroke="#ff0000" stroke-width="1.8"/>
<line x1="208" y1="638.69" x2="218" y2="638.69" stroke="#ff0000" stroke-width="1.8"/>
<line x1="208" y1="642.16" x2="218" y2="642.16" stroke="#ff0000" stroke-width="1.8"/>
<rect x="208.05" y="633.95" width="3.7" height="3.7" stroke="#ff0000" stroke-width="1.8" fill="white"/>
<rect x="214.85" y="632.6" width="3.7" height="3.7" stroke="#ff0000" stroke-width="1.8" fill="white"/>
<rect x="208.05" y="641.77" width="3.7" height="3.7" stroke="#ff0000" stroke-width="1.8" fill="white"/>
<rect x="214.85" y="641.77" width="3.7" height="3.7" stroke="#ff0000" stroke-width="1.8" fill="white"/>
<path d="M88.3 675 V664.8 H122.6 V709.2" stroke="#000" stroke-width="1.6" fill="none"/>
<text x="107.9" y="661.2" font-size="8.4" text-anchor="middle" font-style="italic" fill="#000">P=0.0071</text>
<path d="M178.9 610.9 V600.7 H213.6 V631.3" stroke="#000" stroke-width="1.6" fill="none"/>
<text x="197.3" y="596.4" font-size="8.4" text-anchor="middle" font-style="italic" fill="#000">P=0.0082</text>
<text x="104.4" y="581.2" font-size="8.2" text-anchor="middle" fill="#000">IL-6</text>
<text x="200.7" y="582.2" font-size="8.2" text-anchor="middle" fill="#000">IL-1β</text>
<text x="27.5" y="666.9" font-size="8.2" text-anchor="middle" fill="#000" transform="rotate(-90 27.5 666.9)">Concentration (pg/mL)</text>
<text x="9.8" y="755.6" font-size="8.2" text-anchor="start" fill="#000">CBR-5884</text>
<text x="88.3" y="755.8" font-size="8.2" text-anchor="middle" fill="#000">-</text>
<text x="124.8" y="755.8" font-size="8.2" text-anchor="middle" fill="#000">+</text>
<text x="179.3" y="755.8" font-size="8.2" text-anchor="middle" fill="#000">-</text>
<text x="216" y="755.8" font-size="8.2" text-anchor="middle" fill="#000">+</text>
<line x1="351.9" y1="566.5" x2="351.9" y2="703.1" stroke="#000" stroke-width="2"/>
<line x1="345.1" y1="703.1" x2="351.9" y2="703.1" stroke="#000" stroke-width="1.8"/>
<text x="342.6" y="706.05" font-size="8.2" text-anchor="end" fill="#000">0</text>
<line x1="345.1" y1="680.47" x2="351.9" y2="680.47" stroke="#000" stroke-width="1.8"/>
<text x="342.6" y="683.42" font-size="8.2" text-anchor="end" fill="#000">20</text>
<line x1="345.1" y1="657.83" x2="351.9" y2="657.83" stroke="#000" stroke-width="1.8"/>
<text x="342.6" y="660.78" font-size="8.2" text-anchor="end" fill="#000">40</text>
<line x1="345.1" y1="635.2" x2="351.9" y2="635.2" stroke="#000" stroke-width="1.8"/>
<text x="342.6" y="638.15" font-size="8.2" text-anchor="end" fill="#000">60</text>
<line x1="345.1" y1="612.56" x2="351.9" y2="612.56" stroke="#000" stroke-width="1.8"/>
<text x="342.6" y="615.52" font-size="8.2" text-anchor="end" fill="#000">80</text>
<line x1="345.1" y1="589.93" x2="351.9" y2="589.93" stroke="#000" stroke-width="1.8"/>
<text x="342.6" y="592.88" font-size="8.2" text-anchor="end" fill="#000">100</text>
<line x1="345.1" y1="567.3" x2="351.9" y2="567.3" stroke="#000" stroke-width="1.8"/>
<text x="342.6" y="570.25" font-size="8.2" text-anchor="end" fill="#000">120</text>
<line x1="351.9" y1="703.1" x2="625" y2="703.1" stroke="#000" stroke-width="2"/>
<path d="M361.6 703.1 V619.35 H378.3 V703.1" stroke="#000" stroke-width="2" fill="none" stroke-linejoin="miter"/>
<path d="M380 703.1 V610.3 H396.9 V703.1" stroke="#ff0000" stroke-width="2" fill="none" stroke-linejoin="miter"/>
<line x1="379" y1="703.1" x2="379" y2="710.3" stroke="#000" stroke-width="1.7"/>
<line x1="369.9" y1="621.05" x2="369.9" y2="617.66" stroke="#000" stroke-width="1.3"/>
<line x1="365.4" y1="617.66" x2="374.4" y2="617.66" stroke="#000" stroke-width="1.3"/>
<line x1="365.4" y1="621.05" x2="374.4" y2="621.05" stroke="#000" stroke-width="1.3"/>
<line x1="388.3" y1="613.13" x2="388.3" y2="607.47" stroke="#ff0000" stroke-width="1.3"/>
<line x1="383.8" y1="607.47" x2="392.8" y2="607.47" stroke="#ff0000" stroke-width="1.3"/>
<line x1="383.8" y1="613.13" x2="392.8" y2="613.13" stroke="#ff0000" stroke-width="1.3"/>
<circle cx="363.1" cy="618.45" r="1.89" stroke="#000" stroke-width="1.55" fill="white"/>
<circle cx="369.9" cy="619.01" r="1.89" stroke="#000" stroke-width="1.55" fill="white"/>
<circle cx="376.7" cy="618.45" r="1.89" stroke="#000" stroke-width="1.55" fill="white"/>
<circle cx="369.9" cy="622.75" r="1.89" stroke="#000" stroke-width="1.55" fill="white"/>
<rect x="379.55" y="605.63" width="3.9" height="3.9" stroke="#ff0000" stroke-width="1.55" fill="white"/>
<rect x="386.35" y="605.63" width="3.9" height="3.9" stroke="#ff0000" stroke-width="1.55" fill="white"/>
<rect x="393.15" y="606.09" width="3.9" height="3.9" stroke="#ff0000" stroke-width="1.55" fill="white"/>
<rect x="386.35" y="615.82" width="3.9" height="3.9" stroke="#ff0000" stroke-width="1.55" fill="white"/>
<text x="381" y="593.5" font-size="8.3" text-anchor="middle" font-style="italic" fill="#000">P=0.0178</text>
<line x1="370.8" y1="598" x2="387.2" y2="598" stroke="#000" stroke-width="2.2"/>
<path d="M416 703.1 V702.42 H432.7 V703.1" stroke="#000" stroke-width="2" fill="none" stroke-linejoin="miter"/>
<path d="M434.4 703.1 V702.42 H451.3 V703.1" stroke="#ff0000" stroke-width="2" fill="none" stroke-linejoin="miter"/>
<line x1="433.4" y1="703.1" x2="433.4" y2="710.3" stroke="#000" stroke-width="1.7"/>
<line x1="424.3" y1="702.76" x2="424.3" y2="702.08" stroke="#000" stroke-width="1.3"/>
<line x1="419.8" y1="702.08" x2="428.8" y2="702.08" stroke="#000" stroke-width="1.3"/>
<line x1="419.8" y1="702.76" x2="428.8" y2="702.76" stroke="#000" stroke-width="1.3"/>
<line x1="442.7" y1="702.76" x2="442.7" y2="702.08" stroke="#ff0000" stroke-width="1.3"/>
<line x1="438.2" y1="702.08" x2="447.2" y2="702.08" stroke="#ff0000" stroke-width="1.3"/>
<line x1="438.2" y1="702.76" x2="447.2" y2="702.76" stroke="#ff0000" stroke-width="1.3"/>
<circle cx="418.1" cy="703.1" r="1.89" stroke="#000" stroke-width="1.55" fill="#000"/>
<circle cx="422.2" cy="703.1" r="1.89" stroke="#000" stroke-width="1.55" fill="#000"/>
<circle cx="426.4" cy="703.1" r="1.89" stroke="#000" stroke-width="1.55" fill="#000"/>
<circle cx="430.5" cy="703.1" r="1.89" stroke="#000" stroke-width="1.55" fill="#000"/>
<rect x="434.75" y="700.81" width="3.9" height="3.9" stroke="#ff0000" stroke-width="1.55" fill="#ff0000"/>
<rect x="438.75" y="700.81" width="3.9" height="3.9" stroke="#ff0000" stroke-width="1.55" fill="#ff0000"/>
<rect x="442.75" y="700.81" width="3.9" height="3.9" stroke="#ff0000" stroke-width="1.55" fill="#ff0000"/>
<rect x="446.75" y="700.81" width="3.9" height="3.9" stroke="#ff0000" stroke-width="1.55" fill="#ff0000"/>
<text x="435.4" y="688.5" font-size="8.3" text-anchor="middle" font-style="italic" fill="#000">P=0.1096</text>
<line x1="425.2" y1="692" x2="441.6" y2="692" stroke="#000" stroke-width="2.2"/>
<path d="M470.4 703.1 V655.57 H487.1 V703.1" stroke="#000" stroke-width="2" fill="none" stroke-linejoin="miter"/>
<path d="M488.8 703.1 V656.7 H505.7 V703.1" stroke="#ff0000" stroke-width="2" fill="none" stroke-linejoin="miter"/>
<line x1="487.8" y1="703.1" x2="487.8" y2="710.3" stroke="#000" stroke-width="1.7"/>
<line x1="478.7" y1="661.23" x2="478.7" y2="649.91" stroke="#000" stroke-width="1.3"/>
<line x1="474.2" y1="649.91" x2="483.2" y2="649.91" stroke="#000" stroke-width="1.3"/>
<line x1="474.2" y1="661.23" x2="483.2" y2="661.23" stroke="#000" stroke-width="1.3"/>
<line x1="497.1" y1="662.36" x2="497.1" y2="651.04" stroke="#ff0000" stroke-width="1.3"/>
<line x1="492.6" y1="651.04" x2="501.6" y2="651.04" stroke="#ff0000" stroke-width="1.3"/>
<line x1="492.6" y1="662.36" x2="501.6" y2="662.36" stroke="#ff0000" stroke-width="1.3"/>
<circle cx="478.7" cy="646.97" r="1.89" stroke="#000" stroke-width="1.55" fill="white"/>
<circle cx="478.7" cy="653.31" r="1.89" stroke="#000" stroke-width="1.55" fill="white"/>
<circle cx="478.7" cy="666.89" r="1.89" stroke="#000" stroke-width="1.55" fill="white"/>
<circle cx="478.7" cy="652.17" r="1.89" stroke="#000" stroke-width="1.55" fill="white"/>
<rect x="495.15" y="644.11" width="3.9" height="3.9" stroke="#ff0000" stroke-width="1.55" fill="white"/>
<rect x="492.35" y="652.03" width="3.9" height="3.9" stroke="#ff0000" stroke-width="1.55" fill="white"/>
<rect x="497.95" y="652.03" width="3.9" height="3.9" stroke="#ff0000" stroke-width="1.55" fill="white"/>
<rect x="495.15" y="666.07" width="3.9" height="3.9" stroke="#ff0000" stroke-width="1.55" fill="white"/>
<text x="490" y="635" font-size="8.3" text-anchor="middle" font-style="italic" fill="#000">P=0.8956</text>
<line x1="479.6" y1="638.8" x2="496" y2="638.8" stroke="#000" stroke-width="2.2"/>
<path d="M524.8 703.1 V700.27 H541.5 V703.1" stroke="#000" stroke-width="2" fill="none" stroke-linejoin="miter"/>
<path d="M543.2 703.1 V689.52 H560.1 V703.1" stroke="#ff0000" stroke-width="2" fill="none" stroke-linejoin="miter"/>
<line x1="542.2" y1="703.1" x2="542.2" y2="710.3" stroke="#000" stroke-width="1.7"/>
<line x1="533.1" y1="702.53" x2="533.1" y2="697.44" stroke="#000" stroke-width="1.3"/>
<line x1="528.6" y1="697.44" x2="537.6" y2="697.44" stroke="#000" stroke-width="1.3"/>
<line x1="528.6" y1="702.53" x2="537.6" y2="702.53" stroke="#000" stroke-width="1.3"/>
<line x1="551.5" y1="692.35" x2="551.5" y2="686.69" stroke="#ff0000" stroke-width="1.3"/>
<line x1="547" y1="686.69" x2="556" y2="686.69" stroke="#ff0000" stroke-width="1.3"/>
<line x1="547" y1="692.35" x2="556" y2="692.35" stroke="#ff0000" stroke-width="1.3"/>
<circle cx="533.1" cy="694.27" r="1.89" stroke="#000" stroke-width="1.55" fill="white"/>
<circle cx="527.1" cy="702.19" r="1.89" stroke="#000" stroke-width="1.55" fill="white"/>
<circle cx="533.1" cy="700.84" r="1.89" stroke="#000" stroke-width="1.55" fill="white"/>
<circle cx="539.1" cy="702.19" r="1.89" stroke="#000" stroke-width="1.55" fill="white"/>
<rect x="545.25" y="684.17" width="3.9" height="3.9" stroke="#ff0000" stroke-width="1.55" fill="white"/>
<rect x="553.45" y="682.14" width="3.9" height="3.9" stroke="#ff0000" stroke-width="1.55" fill="white"/>
<rect x="546.75" y="691.76" width="3.9" height="3.9" stroke="#ff0000" stroke-width="1.55" fill="white"/>
<rect x="554.05" y="690.06" width="3.9" height="3.9" stroke="#ff0000" stroke-width="1.55" fill="white"/>
<text x="545.3" y="673.9" font-size="8.3" text-anchor="middle" font-style="italic" fill="#000">P=0.0101</text>
<line x1="534" y1="677.4" x2="550.4" y2="677.4" stroke="#000" stroke-width="2.2"/>
<path d="M579.2 703.1 V596.72 H595.9 V703.1" stroke="#000" stroke-width="2" fill="none" stroke-linejoin="miter"/>
<path d="M597.6 703.1 V610.3 H614.5 V703.1" stroke="#ff0000" stroke-width="2" fill="none" stroke-linejoin="miter"/>
<line x1="596.6" y1="703.1" x2="596.6" y2="710.3" stroke="#000" stroke-width="1.7"/>
<line x1="587.5" y1="599.55" x2="587.5" y2="594.46" stroke="#000" stroke-width="1.3"/>
<line x1="583" y1="594.46" x2="592" y2="594.46" stroke="#000" stroke-width="1.3"/>
<line x1="583" y1="599.55" x2="592" y2="599.55" stroke="#000" stroke-width="1.3"/>
<line x1="605.9" y1="613.13" x2="605.9" y2="606.91" stroke="#ff0000" stroke-width="1.3"/>
<line x1="601.4" y1="606.91" x2="610.4" y2="606.91" stroke="#ff0000" stroke-width="1.3"/>
<line x1="601.4" y1="613.13" x2="610.4" y2="613.13" stroke="#ff0000" stroke-width="1.3"/>
<circle cx="579.6" cy="594.23" r="1.89" stroke="#000" stroke-width="1.55" fill="white"/>
<circle cx="586.9" cy="595.59" r="1.89" stroke="#000" stroke-width="1.55" fill="white"/>
<circle cx="594.2" cy="595.02" r="1.89" stroke="#000" stroke-width="1.55" fill="white"/>
<circle cx="586.9" cy="603.17" r="1.89" stroke="#000" stroke-width="1.55" fill="white"/>
<rect x="600.15" y="604.16" width="3.9" height="3.9" stroke="#ff0000" stroke-width="1.55" fill="white"/>
<rect x="608.05" y="601.9" width="3.9" height="3.9" stroke="#ff0000" stroke-width="1.55" fill="white"/>
<rect x="600.15" y="612.09" width="3.9" height="3.9" stroke="#ff0000" stroke-width="1.55" fill="white"/>
<rect x="608.05" y="612.09" width="3.9" height="3.9" stroke="#ff0000" stroke-width="1.55" fill="white"/>
<text x="596.6" y="585.4" font-size="8.3" text-anchor="middle" font-style="italic" fill="#000">P=0.0117</text>
<line x1="588.4" y1="588.9" x2="604.8" y2="588.9" stroke="#000" stroke-width="2.2"/>
<text x="323.6" y="635.2" font-size="8.6" text-anchor="middle" fill="#000" transform="rotate(-90 323.6 635.2)">Percentage (%)</text>
<text x="377.9" y="719.2" font-size="8.3" text-anchor="end" fill="#000" transform="rotate(-45 377.9 719.2)">Neutrophils</text>
<text x="388.1" y="724.8" font-size="8.3" text-anchor="end" fill="#000" transform="rotate(-45 388.1 724.8)">(Ly6G<tspan dy="-3" font-size="5">+</tspan><tspan dy="3"> CD11b</tspan><tspan dy="-3" font-size="5">+</tspan><tspan dy="3">)</tspan></text>
<text x="432.3" y="719.2" font-size="8.3" text-anchor="end" fill="#000" transform="rotate(-45 432.3 719.2)">Eosinophils</text>
<text x="442.5" y="724.8" font-size="8.3" text-anchor="end" fill="#000" transform="rotate(-45 442.5 724.8)">(SiglecF<tspan dy="-3" font-size="5">+</tspan><tspan dy="3"> CD11c</tspan><tspan dy="-3" font-size="5">-</tspan><tspan dy="3">)</tspan></text>
<text x="486.7" y="719.2" font-size="8.3" text-anchor="end" fill="#000" transform="rotate(-45 486.7 719.2)">Macrophages</text>
<text x="496.9" y="724.8" font-size="8.3" text-anchor="end" fill="#000" transform="rotate(-45 496.9 724.8)">(CD64<tspan dy="-3" font-size="5">+</tspan><tspan dy="3">)</tspan></text>
<text x="541.1" y="719.2" font-size="8.3" text-anchor="end" fill="#000" transform="rotate(-45 541.1 719.2)">Alveolar Macrophages</text>
<text x="551.3" y="724.8" font-size="8.3" text-anchor="end" fill="#000" transform="rotate(-45 551.3 724.8)">(SiglecF<tspan dy="-3" font-size="5">+</tspan><tspan dy="3"> CD11b</tspan><tspan dy="-3" font-size="5">-</tspan><tspan dy="3">)</tspan></text>
<text x="595.5" y="719.2" font-size="8.3" text-anchor="end" fill="#000" transform="rotate(-45 595.5 719.2)">Trans-Macrophages</text>
<text x="605.7" y="724.8" font-size="8.3" text-anchor="end" fill="#000" transform="rotate(-45 605.7 724.8)">(SiglecF<tspan dy="-3" font-size="5">-</tspan><tspan dy="3"> CD11b</tspan><tspan dy="-3" font-size="5">+</tspan><tspan dy="3">)</tspan></text>
<rect x="32.3" y="810.5" width="141.6" height="141.4" stroke="#000" stroke-width="1.6" fill="none"/>
<line x1="29.3" y1="951.1" x2="32.3" y2="951.1" stroke="#000" stroke-width="1.2"/>
<text x="28.3" y="954" font-size="7.6" text-anchor="end" fill="#000">0</text>
<line x1="29.3" y1="909.2" x2="32.3" y2="909.2" stroke="#000" stroke-width="1.2"/>
<text x="28.3" y="912.1" font-size="7.6" text-anchor="end" fill="#000">50</text>
<line x1="29.3" y1="867.3" x2="32.3" y2="867.3" stroke="#000" stroke-width="1.2"/>
<text x="28.3" y="870.2" font-size="7.6" text-anchor="end" fill="#000">100</text>
<line x1="29.3" y1="825.4" x2="32.3" y2="825.4" stroke="#000" stroke-width="1.2"/>
<text x="28.3" y="828.3" font-size="7.6" text-anchor="end" fill="#000">150</text>
<line x1="30.7" y1="951.1" x2="32.3" y2="951.1" stroke="#000" stroke-width="0.6"/>
<line x1="30.7" y1="942.72" x2="32.3" y2="942.72" stroke="#000" stroke-width="0.6"/>
<line x1="30.7" y1="934.34" x2="32.3" y2="934.34" stroke="#000" stroke-width="0.6"/>
<line x1="30.7" y1="925.96" x2="32.3" y2="925.96" stroke="#000" stroke-width="0.6"/>
<line x1="30.7" y1="917.58" x2="32.3" y2="917.58" stroke="#000" stroke-width="0.6"/>
<line x1="30.7" y1="909.2" x2="32.3" y2="909.2" stroke="#000" stroke-width="0.6"/>
<line x1="30.7" y1="900.82" x2="32.3" y2="900.82" stroke="#000" stroke-width="0.6"/>
<line x1="30.7" y1="892.44" x2="32.3" y2="892.44" stroke="#000" stroke-width="0.6"/>
<line x1="30.7" y1="884.06" x2="32.3" y2="884.06" stroke="#000" stroke-width="0.6"/>
<line x1="30.7" y1="875.68" x2="32.3" y2="875.68" stroke="#000" stroke-width="0.6"/>
<line x1="30.7" y1="867.3" x2="32.3" y2="867.3" stroke="#000" stroke-width="0.6"/>
<line x1="30.7" y1="858.92" x2="32.3" y2="858.92" stroke="#000" stroke-width="0.6"/>
<line x1="30.7" y1="850.54" x2="32.3" y2="850.54" stroke="#000" stroke-width="0.6"/>
<line x1="30.7" y1="842.16" x2="32.3" y2="842.16" stroke="#000" stroke-width="0.6"/>
<line x1="30.7" y1="833.78" x2="32.3" y2="833.78" stroke="#000" stroke-width="0.6"/>
<line x1="30.7" y1="825.4" x2="32.3" y2="825.4" stroke="#000" stroke-width="0.6"/>
<line x1="30.7" y1="817.02" x2="32.3" y2="817.02" stroke="#000" stroke-width="0.6"/>
<line x1="36" y1="951.9" x2="36" y2="953.5" stroke="#000" stroke-width="0.6"/>
<line x1="39.5" y1="951.9" x2="39.5" y2="953.5" stroke="#000" stroke-width="0.6"/>
<line x1="43" y1="951.9" x2="43" y2="953.5" stroke="#000" stroke-width="0.6"/>
<line x1="46.5" y1="951.9" x2="46.5" y2="953.5" stroke="#000" stroke-width="0.6"/>
<line x1="49.5" y1="951.9" x2="49.5" y2="953.5" stroke="#000" stroke-width="0.6"/>
<line x1="55" y1="951.9" x2="55" y2="953.5" stroke="#000" stroke-width="0.6"/>
<line x1="58.5" y1="951.9" x2="58.5" y2="953.5" stroke="#000" stroke-width="0.6"/>
<line x1="62" y1="951.9" x2="62" y2="953.5" stroke="#000" stroke-width="0.6"/>
<line x1="66" y1="951.9" x2="66" y2="953.5" stroke="#000" stroke-width="0.6"/>
<line x1="70" y1="951.9" x2="70" y2="953.5" stroke="#000" stroke-width="0.6"/>
<line x1="77" y1="951.9" x2="77" y2="953.5" stroke="#000" stroke-width="0.6"/>
<line x1="82" y1="951.9" x2="82" y2="953.5" stroke="#000" stroke-width="0.6"/>
<line x1="86" y1="951.9" x2="86" y2="953.5" stroke="#000" stroke-width="0.6"/>
<line x1="90" y1="951.9" x2="90" y2="953.5" stroke="#000" stroke-width="0.6"/>
<line x1="94" y1="951.9" x2="94" y2="953.5" stroke="#000" stroke-width="0.6"/>
<line x1="97" y1="951.9" x2="97" y2="953.5" stroke="#000" stroke-width="0.6"/>
<line x1="100" y1="951.9" x2="100" y2="953.5" stroke="#000" stroke-width="0.6"/>
<line x1="103" y1="951.9" x2="103" y2="953.5" stroke="#000" stroke-width="0.6"/>
<line x1="105.5" y1="951.9" x2="105.5" y2="953.5" stroke="#000" stroke-width="0.6"/>
<line x1="121.5" y1="951.9" x2="121.5" y2="953.5" stroke="#000" stroke-width="0.6"/>
<line x1="129.5" y1="951.9" x2="129.5" y2="953.5" stroke="#000" stroke-width="0.6"/>
<line x1="135.5" y1="951.9" x2="135.5" y2="953.5" stroke="#000" stroke-width="0.6"/>
<line x1="140" y1="951.9" x2="140" y2="953.5" stroke="#000" stroke-width="0.6"/>
<line x1="144" y1="951.9" x2="144" y2="953.5" stroke="#000" stroke-width="0.6"/>
<line x1="147.5" y1="951.9" x2="147.5" y2="953.5" stroke="#000" stroke-width="0.6"/>
<line x1="150.5" y1="951.9" x2="150.5" y2="953.5" stroke="#000" stroke-width="0.6"/>
<line x1="167.5" y1="951.9" x2="167.5" y2="953.5" stroke="#000" stroke-width="0.6"/>
<line x1="51.8" y1="951.9" x2="51.8" y2="954.9" stroke="#000" stroke-width="1.2"/>
<text x="51.8" y="966.8" font-size="7.6" text-anchor="middle" fill="#000">0</text>
<line x1="107.7" y1="951.9" x2="107.7" y2="954.9" stroke="#000" stroke-width="1.2"/>
<text x="105.7" y="967" font-size="7.6" text-anchor="middle" fill="#000">10</text>
<text x="112.3" y="963.2" font-size="6.6" text-anchor="middle" fill="#000">4</text>
<line x1="153.7" y1="951.9" x2="153.7" y2="954.9" stroke="#000" stroke-width="1.2"/>
<text x="151.7" y="967" font-size="7.6" text-anchor="middle" fill="#000">10</text>
<text x="158.3" y="963.2" font-size="6.6" text-anchor="middle" fill="#000">5</text>
<text x="101.3" y="980.3" font-size="7.8" text-anchor="middle" fill="#000">Comp-PE-A</text>
<text x="6.3" y="878.8" font-size="7.6" text-anchor="middle" fill="#000" transform="rotate(-90 6.3 878.8)">Count</text>
<path d="M42 951.9 L43.4 951.5 L45 945 L46 936.6 L47.2 905 L48.1 878.8 L48.8 852 L49.4 839.4 L50.3 845 L51.2 851.2 L52.5 856.5 L53.3 866 L53.9 871 L55 873 L55.7 876.2 L56.8 890 L57.8 899.8 L59 908 L60.4 915.6 L62 919 L64.4 922.2 L67 924 L70.9 928.7 L74 929 L76 932 L78.8 934 L82 934 L84 936.5 L86.7 936.6 L90 938 L94 940 L97.2 941.9 L101 941.6 L105 943 L110.4 944 L115 944.8 L118 946 L123.5 947.1 L128 948.5 L132 949.5 L136.6 950.5 L141.9 951.7 L150 951.9" stroke="#ff0000" stroke-width="1.1" fill="none" stroke-linejoin="round"/>
<path d="M43 951.9 L44.7 951.4 L46 940 L47.3 918.2 L48.4 900 L49.4 889.3 L50.4 884.9 L51.2 887 L52 890.6 L53 894 L53.9 897.2 L55.2 895.9 L56.3 905 L57.8 915.6 L59.5 919 L61.7 920.9 L63.5 921 L65.7 923.5 L67.5 925 L69.6 928.7 L71.5 926 L73 925.5 L74.9 926.1 L76 924.5 L77.5 924.8 L79 928 L80.1 928.7 L81.5 925 L83.6 923.5 L85 927.5 L86.7 930.1 L88.5 929 L90 930 L92 929.3 L93.5 932 L94.6 932.7 L97 932 L99 931 L101.2 934 L103 932.5 L105 933.5 L107.7 936.6 L110 935.5 L112.5 937 L115.6 937.9 L118 937 L120 939 L123.5 940.6 L126 940.5 L128 942.5 L130.1 944 L133 945 L136.6 947.1 L140 949 L144.5 951.1 L147.1 951.9 L155 951.9" stroke="#000" stroke-width="1.1" fill="none" stroke-linejoin="round"/>
<rect x="211.3" y="810.5" width="141.3" height="141.4" stroke="#000" stroke-width="1.6" fill="none"/>
<line x1="208.3" y1="951.1" x2="211.3" y2="951.1" stroke="#000" stroke-width="1.2"/>
<text x="207.3" y="954" font-size="7.6" text-anchor="end" fill="#000">0</text>
<line x1="208.3" y1="917.27" x2="211.3" y2="917.27" stroke="#000" stroke-width="1.2"/>
<text x="207.3" y="920.17" font-size="7.6" text-anchor="end" fill="#000">50</text>
<line x1="208.3" y1="883.45" x2="211.3" y2="883.45" stroke="#000" stroke-width="1.2"/>
<text x="207.3" y="886.35" font-size="7.6" text-anchor="end" fill="#000">100</text>
<line x1="208.3" y1="849.62" x2="211.3" y2="849.62" stroke="#000" stroke-width="1.2"/>
<text x="207.3" y="852.52" font-size="7.6" text-anchor="end" fill="#000">150</text>
<line x1="208.3" y1="815.8" x2="211.3" y2="815.8" stroke="#000" stroke-width="1.2"/>
<text x="207.3" y="818.7" font-size="7.6" text-anchor="end" fill="#000">200</text>
<line x1="209.7" y1="951.1" x2="211.3" y2="951.1" stroke="#000" stroke-width="0.6"/>
<line x1="209.7" y1="944.34" x2="211.3" y2="944.34" stroke="#000" stroke-width="0.6"/>
<line x1="209.7" y1="937.57" x2="211.3" y2="937.57" stroke="#000" stroke-width="0.6"/>
<line x1="209.7" y1="930.81" x2="211.3" y2="930.81" stroke="#000" stroke-width="0.6"/>
<line x1="209.7" y1="924.04" x2="211.3" y2="924.04" stroke="#000" stroke-width="0.6"/>
<line x1="209.7" y1="917.27" x2="211.3" y2="917.27" stroke="#000" stroke-width="0.6"/>
<line x1="209.7" y1="910.51" x2="211.3" y2="910.51" stroke="#000" stroke-width="0.6"/>
<line x1="209.7" y1="903.75" x2="211.3" y2="903.75" stroke="#000" stroke-width="0.6"/>
<line x1="209.7" y1="896.98" x2="211.3" y2="896.98" stroke="#000" stroke-width="0.6"/>
<line x1="209.7" y1="890.22" x2="211.3" y2="890.22" stroke="#000" stroke-width="0.6"/>
<line x1="209.7" y1="883.45" x2="211.3" y2="883.45" stroke="#000" stroke-width="0.6"/>
<line x1="209.7" y1="876.69" x2="211.3" y2="876.69" stroke="#000" stroke-width="0.6"/>
<line x1="209.7" y1="869.92" x2="211.3" y2="869.92" stroke="#000" stroke-width="0.6"/>
<line x1="209.7" y1="863.15" x2="211.3" y2="863.15" stroke="#000" stroke-width="0.6"/>
<line x1="209.7" y1="856.39" x2="211.3" y2="856.39" stroke="#000" stroke-width="0.6"/>
<line x1="209.7" y1="849.62" x2="211.3" y2="849.62" stroke="#000" stroke-width="0.6"/>
<line x1="209.7" y1="842.86" x2="211.3" y2="842.86" stroke="#000" stroke-width="0.6"/>
<line x1="209.7" y1="836.1" x2="211.3" y2="836.1" stroke="#000" stroke-width="0.6"/>
<line x1="209.7" y1="829.33" x2="211.3" y2="829.33" stroke="#000" stroke-width="0.6"/>
<line x1="209.7" y1="822.57" x2="211.3" y2="822.57" stroke="#000" stroke-width="0.6"/>
<line x1="209.7" y1="815.8" x2="211.3" y2="815.8" stroke="#000" stroke-width="0.6"/>
<line x1="214.5" y1="951.9" x2="214.5" y2="953.5" stroke="#000" stroke-width="0.6"/>
<line x1="218" y1="951.9" x2="218" y2="953.5" stroke="#000" stroke-width="0.6"/>
<line x1="221.5" y1="951.9" x2="221.5" y2="953.5" stroke="#000" stroke-width="0.6"/>
<line x1="225" y1="951.9" x2="225" y2="953.5" stroke="#000" stroke-width="0.6"/>
<line x1="228.5" y1="951.9" x2="228.5" y2="953.5" stroke="#000" stroke-width="0.6"/>
<line x1="244" y1="951.9" x2="244" y2="953.5" stroke="#000" stroke-width="0.6"/>
<line x1="251.5" y1="951.9" x2="251.5" y2="953.5" stroke="#000" stroke-width="0.6"/>
<line x1="257" y1="951.9" x2="257" y2="953.5" stroke="#000" stroke-width="0.6"/>
<line x1="261" y1="951.9" x2="261" y2="953.5" stroke="#000" stroke-width="0.6"/>
<line x1="264.5" y1="951.9" x2="264.5" y2="953.5" stroke="#000" stroke-width="0.6"/>
<line x1="267.5" y1="951.9" x2="267.5" y2="953.5" stroke="#000" stroke-width="0.6"/>
<line x1="270" y1="951.9" x2="270" y2="953.5" stroke="#000" stroke-width="0.6"/>
<line x1="283.5" y1="951.9" x2="283.5" y2="953.5" stroke="#000" stroke-width="0.6"/>
<line x1="291.5" y1="951.9" x2="291.5" y2="953.5" stroke="#000" stroke-width="0.6"/>
<line x1="297.5" y1="951.9" x2="297.5" y2="953.5" stroke="#000" stroke-width="0.6"/>
<line x1="302" y1="951.9" x2="302" y2="953.5" stroke="#000" stroke-width="0.6"/>
<line x1="305.5" y1="951.9" x2="305.5" y2="953.5" stroke="#000" stroke-width="0.6"/>
<line x1="309" y1="951.9" x2="309" y2="953.5" stroke="#000" stroke-width="0.6"/>
<line x1="316.5" y1="951.9" x2="316.5" y2="953.5" stroke="#000" stroke-width="0.6"/>
<line x1="324.5" y1="951.9" x2="324.5" y2="953.5" stroke="#000" stroke-width="0.6"/>
<line x1="330.5" y1="951.9" x2="330.5" y2="953.5" stroke="#000" stroke-width="0.6"/>
<line x1="335" y1="951.9" x2="335" y2="953.5" stroke="#000" stroke-width="0.6"/>
<line x1="338.5" y1="951.9" x2="338.5" y2="953.5" stroke="#000" stroke-width="0.6"/>
<line x1="345.5" y1="951.9" x2="345.5" y2="953.5" stroke="#000" stroke-width="0.6"/>
<line x1="350" y1="951.9" x2="350" y2="953.5" stroke="#000" stroke-width="0.6"/>
<line x1="233.8" y1="951.9" x2="233.8" y2="954.9" stroke="#000" stroke-width="1.2"/>
<text x="233.8" y="966.8" font-size="7.6" text-anchor="middle" fill="#000">0</text>
<line x1="273.3" y1="951.9" x2="273.3" y2="954.9" stroke="#000" stroke-width="1.2"/>
<text x="271.3" y="967" font-size="7.6" text-anchor="middle" fill="#000">10</text>
<text x="277.9" y="963.2" font-size="6.6" text-anchor="middle" fill="#000">3</text>
<line x1="306.6" y1="951.9" x2="306.6" y2="954.9" stroke="#000" stroke-width="1.2"/>
<text x="304.6" y="967" font-size="7.6" text-anchor="middle" fill="#000">10</text>
<text x="311.2" y="963.2" font-size="6.6" text-anchor="middle" fill="#000">4</text>
<line x1="338.2" y1="951.9" x2="338.2" y2="954.9" stroke="#000" stroke-width="1.2"/>
<text x="336.2" y="967" font-size="7.6" text-anchor="middle" fill="#000">10</text>
<text x="342.8" y="963.2" font-size="6.6" text-anchor="middle" fill="#000">5</text>
<text x="284.4" y="980.3" font-size="7.8" text-anchor="middle" fill="#000">Comp-BV421-A</text>
<text x="184.8" y="878.8" font-size="7.6" text-anchor="middle" fill="#000" transform="rotate(-90 184.8 878.8)">Count</text>
<path d="M226 951.9 L228 951.4 L229.5 946 L231 936.6 L232.2 910 L233.1 878.8 L234.3 850 L235.7 826.3 L237.3 821.8 L238.5 826 L239.6 834.2 L241 848 L242.3 860.4 L243.6 873 L244.9 886.7 L246.2 904 L247.5 920.9 L249.5 930 L251.5 936.6 L254 941 L256.7 944.5 L260 946.5 L264.6 948.4 L270 949.8 L275.1 950.3 L280 950 L285.6 949.2 L290.9 948.4 L293.5 949.3 L296.1 950.3 L301.4 951.7 L305 951.9" stroke="#000" stroke-width="1.1" fill="none" stroke-linejoin="round"/>
<path d="M225 951.9 L227.2 951.4 L228.6 947 L229.8 941.9 L230.8 925 L231.9 905.1 L233 878 L234.4 852.5 L235.3 838 L236.2 828.9 L237 835 L237.8 844.7 L238.8 866 L239.6 884.1 L241 893 L242.3 899.8 L243.6 909 L244.9 915.6 L246.2 914.5 L247.5 915.6 L248.8 922 L250.1 927.4 L252 930.5 L254.1 934 L256.5 939 L259.3 944.5 L262 946 L264.6 947.1 L267 948 L269.8 948.4 L272.5 947.5 L275.1 947.1 L277.5 948 L280.4 948.4 L282.5 945 L285.6 940.6 L288 940.2 L290.9 941.4 L293.5 945 L296.1 948.4 L299 950.5 L301.4 951.3 L305 951.9" stroke="#ff0000" stroke-width="1.1" fill="none" stroke-linejoin="round"/>
<line x1="265.1" y1="834.7" x2="276.4" y2="834.7" stroke="#000" stroke-width="1.6"/>
<text x="281.7" y="838.5" font-size="8.2" text-anchor="start" fill="#000">PA</text>
<line x1="265.1" y1="850.4" x2="276.4" y2="850.4" stroke="#ff0000" stroke-width="1.6"/>
<text x="281.7" y="854.7" font-size="8.2" text-anchor="start" fill="#000">PA+CBR-5884</text>
<line x1="418.4" y1="815.3" x2="418.4" y2="877.4" stroke="#000" stroke-width="2"/>
<line x1="410.9" y1="816.1" x2="418.4" y2="816.1" stroke="#000" stroke-width="1.8"/>
<text x="408.9" y="819.05" font-size="8.2" text-anchor="end" fill="#000">8000</text>
<line x1="410.9" y1="836.04" x2="418.4" y2="836.04" stroke="#000" stroke-width="1.8"/>
<text x="408.9" y="838.99" font-size="8.2" text-anchor="end" fill="#000">6000</text>
<line x1="410.9" y1="855.98" x2="418.4" y2="855.98" stroke="#000" stroke-width="1.8"/>
<text x="408.9" y="858.93" font-size="8.2" text-anchor="end" fill="#000">4000</text>
<text x="408.9" y="878.87" font-size="8.2" text-anchor="end" fill="#000">2000</text>
<line x1="418.4" y1="888.4" x2="418.4" y2="952.2" stroke="#000" stroke-width="2"/>
<line x1="410.9" y1="894.92" x2="418.4" y2="894.92" stroke="#000" stroke-width="1.8"/>
<text x="408.9" y="897.87" font-size="8.2" text-anchor="end" fill="#000">450</text>
<line x1="410.9" y1="914.01" x2="418.4" y2="914.01" stroke="#000" stroke-width="1.8"/>
<text x="408.9" y="916.96" font-size="8.2" text-anchor="end" fill="#000">300</text>
<line x1="410.9" y1="933.11" x2="418.4" y2="933.11" stroke="#000" stroke-width="1.8"/>
<text x="408.9" y="936.06" font-size="8.2" text-anchor="end" fill="#000">150</text>
<line x1="410.9" y1="952.2" x2="418.4" y2="952.2" stroke="#000" stroke-width="1.8"/>
<text x="408.9" y="955.15" font-size="8.2" text-anchor="end" fill="#000">0</text>
<line x1="413.4" y1="872.9" x2="422.2" y2="881.3" stroke="#000" stroke-width="1.8"/>
<line x1="413.4" y1="884" x2="422.2" y2="892.2" stroke="#000" stroke-width="1.8"/>
<line x1="418.4" y1="952.2" x2="588.6" y2="952.2" stroke="#000" stroke-width="2"/>
<path d="M429.8 952.2 V838.2 H451.2 V952.2" stroke="#000" stroke-width="2" fill="none" stroke-linejoin="miter"/>
<path d="M463.5 952.2 V858.7 H485 V952.2" stroke="#ff0000" stroke-width="2" fill="none" stroke-linejoin="miter"/>
<path d="M520.7 952.2 V919.9 H541.8 V952.2" stroke="#000" stroke-width="2" fill="none" stroke-linejoin="miter"/>
<path d="M554.4 952.2 V905.2 H576 V952.2" stroke="#ff0000" stroke-width="2" fill="none" stroke-linejoin="miter"/>
<line x1="502.7" y1="817" x2="502.7" y2="952.2" stroke="#000" stroke-width="2.2" stroke-dasharray="3.0 5.6" stroke-linecap="round"/>
<line x1="440.3" y1="952.2" x2="440.3" y2="959.5" stroke="#000" stroke-width="1.7"/>
<line x1="474.2" y1="952.2" x2="474.2" y2="959.5" stroke="#000" stroke-width="1.7"/>
<line x1="531.2" y1="952.2" x2="531.2" y2="959.5" stroke="#000" stroke-width="1.7"/>
<line x1="565.4" y1="952.2" x2="565.4" y2="959.5" stroke="#000" stroke-width="1.7"/>
<line x1="440.3" y1="837.2" x2="440.3" y2="839.2" stroke="#000" stroke-width="1.8"/>
<line x1="435.3" y1="839.2" x2="445.3" y2="839.2" stroke="#000" stroke-width="1.8"/>
<line x1="435.3" y1="837.2" x2="445.3" y2="837.2" stroke="#000" stroke-width="1.8"/>
<circle cx="430.7" cy="838.6" r="1.76" stroke="#000" stroke-width="1.8" fill="#000"/>
<circle cx="437.1" cy="835.2" r="1.76" stroke="#000" stroke-width="1.8" fill="white"/>
<circle cx="443.5" cy="838.6" r="1.76" stroke="#000" stroke-width="1.8" fill="#000"/>
<circle cx="450" cy="837.4" r="1.76" stroke="#000" stroke-width="1.8" fill="white"/>
<line x1="474.2" y1="862" x2="474.2" y2="853.8" stroke="#ff0000" stroke-width="1.8"/>
<line x1="468.7" y1="853.8" x2="479.7" y2="853.8" stroke="#ff0000" stroke-width="1.8"/>
<line x1="468.7" y1="862" x2="479.7" y2="862" stroke="#ff0000" stroke-width="1.8"/>
<rect x="472.35" y="843.85" width="3.7" height="3.7" stroke="#ff0000" stroke-width="1.8" fill="white"/>
<rect x="475.85" y="862.35" width="3.7" height="3.7" stroke="#ff0000" stroke-width="1.8" fill="white"/>
<rect x="468.75" y="865.25" width="3.7" height="3.7" stroke="#ff0000" stroke-width="1.8" fill="white"/>
<rect x="472.35" y="855.15" width="3.7" height="3.7" stroke="#ff0000" stroke-width="1.8" fill="#ff0000"/>
<line x1="531.2" y1="922" x2="531.2" y2="917" stroke="#000" stroke-width="1.8"/>
<line x1="526.2" y1="917" x2="536.2" y2="917" stroke="#000" stroke-width="1.8"/>
<line x1="526.2" y1="922" x2="536.2" y2="922" stroke="#000" stroke-width="1.8"/>
<circle cx="527.3" cy="917.9" r="1.76" stroke="#000" stroke-width="1.8" fill="white"/>
<circle cx="534.6" cy="917" r="1.76" stroke="#000" stroke-width="1.8" fill="white"/>
<circle cx="527.3" cy="922.5" r="1.76" stroke="#000" stroke-width="1.8" fill="white"/>
<circle cx="535.5" cy="921" r="1.76" stroke="#000" stroke-width="1.8" fill="white"/>
<line x1="565.4" y1="911.7" x2="565.4" y2="897.9" stroke="#ff0000" stroke-width="1.8"/>
<line x1="559.9" y1="897.9" x2="570.9" y2="897.9" stroke="#ff0000" stroke-width="1.8"/>
<line x1="559.9" y1="911.7" x2="570.9" y2="911.7" stroke="#ff0000" stroke-width="1.8"/>
<rect x="563.45" y="888.45" width="3.7" height="3.7" stroke="#ff0000" stroke-width="1.8" fill="white"/>
<rect x="563.45" y="892.65" width="3.7" height="3.7" stroke="#ff0000" stroke-width="1.8" fill="white"/>
<rect x="559.75" y="915.15" width="3.7" height="3.7" stroke="#ff0000" stroke-width="1.8" fill="white"/>
<rect x="567.45" y="912.05" width="3.7" height="3.7" stroke="#ff0000" stroke-width="1.8" fill="white"/>
<path d="M443.6 827.2 V820.3 H474.2 V837.3" stroke="#000" stroke-width="1.6" fill="none"/>
<text x="458.9" y="811.3" font-size="8.2" text-anchor="middle" font-style="italic" fill="#000">P=0.0056</text>
<path d="M531 902.6 V876.5 H565.3 V885.7" stroke="#000" stroke-width="1.6" fill="none"/>
<text x="547.8" y="871.1" font-size="8.2" text-anchor="middle" font-style="italic" fill="#000">P=0.0826</text>
<text x="457" y="798.3" font-size="8.2" text-anchor="middle" fill="#000">CD86</text>
<text x="469.8" y="793.2" font-size="5.8" text-anchor="middle" fill="#000">+</text>
<text x="542.8" y="795.8" font-size="8.2" text-anchor="middle" fill="#000">CD206</text>
<text x="558.8" y="790.8" font-size="5.8" text-anchor="middle" fill="#000">+</text>
<text x="383.6" y="884.6" font-size="8.5" text-anchor="middle" fill="#000" transform="rotate(-90 383.6 884.6)">Mean fluorescence intensity</text>
<text x="373" y="969" font-size="8.2" text-anchor="start" fill="#000">CBR-5884</text>
<text x="440.3" y="969" font-size="8.2" text-anchor="middle" fill="#000">-</text>
<text x="474.2" y="969" font-size="8.2" text-anchor="middle" fill="#000">+</text>
<text x="531.2" y="969" font-size="8.2" text-anchor="middle" fill="#000">-</text>
<text x="565.4" y="969" font-size="8.2" text-anchor="middle" fill="#000">+</text>
<text x="54.8" y="47.9" font-size="6.2" text-anchor="start" fill="#000" style="stroke-width:0.08px">PBS, i.n. or</text>
<text x="54.8" y="56.2" font-size="6.2" text-anchor="start" fill="#000" style="stroke-width:0.08px">PAO1(2×10<tspan dy="-2" font-size="4">6</tspan><tspan dy="2">), i.n.</tspan></text>
<line x1="91.6" y1="61.4" x2="84.2" y2="69.9" stroke="#000" stroke-width="1.1"/>
<path d="M81.2 73.1 L82.4 67.6 L86.6 71.4 Z" stroke="#000" stroke-width="0.3" fill="#000"/>
<path d="M56.5 85 C51 86.5 50.5 91.5 55.6 91.9" stroke="#cf8a80" stroke-width="1" fill="none"/>
<path d="M55.5 91.9 C60 92.3 64 91.2 67.4 90.5" stroke="#cf8a80" stroke-width="1" fill="none"/>
<path d="M59 88.6 L61.5 89.2 M73 87.6 L76.3 88.6" stroke="#cf8a80" stroke-width="0.9" fill="none"/>
<path d="M56.1 84.6 C56.8 80.5 59.5 77.6 63.7 76.6 C67 75.9 70.5 76.4 72.6 76.4 C73.6 74.8 75.2 75.2 75.6 76.6 C77.6 77.4 79.6 78.6 80.2 79.8 C79.2 81.4 77.4 82.2 76.6 82.6 C74.5 84.4 72.6 86.2 70.2 87.3 C66 88 61 87.8 58 86.9 C56.9 86.5 56.1 85.6 56.1 84.6 Z" stroke="#4a4443" stroke-width="0.2" fill="#4a4443"/>
<ellipse cx="72.9" cy="78" rx="1.0" ry="1.6" fill="#cf8a80"/>
<text x="69.3" y="105.3" font-size="6.2" text-anchor="middle" fill="#000" style="stroke-width:0.08px">C57, 8w</text>
<text x="101.5" y="77.5" font-size="6.2" text-anchor="middle" fill="#000" style="stroke-width:0.08px">4h</text>
<line x1="90.3" y1="80.9" x2="117.5" y2="80.9" stroke="#000" stroke-width="1.1"/>
<path d="M121 80.9 L116.3 78.6 L116.3 83.2 Z" stroke="#000" stroke-width="0.3" fill="#000"/>
<text x="109.3" y="28.2" font-size="6.2" text-anchor="start" font-style="italic" fill="#000" style="stroke-width:0.08px">i.n.&#160;&#160;P. aeruginosa</text>
<line x1="134.7" y1="33.3" x2="134.7" y2="41.3" stroke="#9a9a9a" stroke-width="0.9"/>
<line x1="133.3" y1="33.4" x2="136" y2="33.4" stroke="#9a9a9a" stroke-width="0.8"/>
<rect x="132.4" y="41.2" width="4.6" height="1.3" stroke="#888" stroke-width="0.4" fill="#bbb"/>
<rect x="133.3" y="42.5" width="2.8" height="13.9" stroke="#999" stroke-width="0.5" fill="#e8e8e8"/>
<rect x="133.5" y="47.2" width="2.4" height="9" stroke="none" stroke-width="0" fill="#4b8fc6"/>
<line x1="133.4" y1="47.3" x2="136" y2="47.3" stroke="#333" stroke-width="0.9"/>
<line x1="134.7" y1="56.4" x2="134.7" y2="63.6" stroke="#c8c8c8" stroke-width="0.6"/>
<path d="M134.7 94 C134.6 100 135.8 106 135.2 114" stroke="#cf8a80" stroke-width="0.6" fill="none"/>
<path d="M130.3 75 L127.4 73.3 M139.1 75 L142 73.3 M130 92 L127.3 95.8 M139.4 92 L142.1 95.8" stroke="#cf8a80" stroke-width="0.9" fill="none"/>
<path d="M134.7 66.8 C133.4 68.5 132.6 70 132.2 71.5 C131.2 71.3 130.8 72.4 131.6 73.4 C130.4 74.6 129.4 76.5 129.5 79 C129.2 83 129.2 88 130.2 90.8 C131.4 92.6 133 93.6 134.7 94.4 C136.4 93.6 138 92.6 139.2 90.8 C140.2 88 140.2 83 139.9 79 C140 76.5 139 74.6 137.8 73.4 C138.6 72.4 138.2 71.3 137.2 71.5 C136.8 70 136 68.5 134.7 66.8 Z" stroke="#4a4443" stroke-width="0.2" fill="#4a4443"/>
<path d="M131 77.5 L128.6 74.2 M138.4 77.5 L140.8 74.2 M131.2 90.5 L129 94.2 M138.2 90.5 L140.4 94.2" stroke="#4a4443" stroke-width="1.5" fill="none"/>
<text x="163.1" y="77.5" font-size="6.2" text-anchor="middle" fill="#000" style="stroke-width:0.08px">24h</text>
<line x1="149.7" y1="80.8" x2="179.6" y2="80.8" stroke="#000" stroke-width="1.1"/>
<path d="M183.2 80.8 L178.5 78.5 L178.5 83.1 Z" stroke="#000" stroke-width="0.3" fill="#000"/>
<path d="M188.3 80.7 H200.3 M213 42.8 H200.3 V118.4 H213" stroke="#000" stroke-width="1.1" fill="none"/>
<path d="M217.4 50.8 V42.4 H325.8 V50.8" stroke="#000" stroke-width="1.1" fill="none"/>
<path d="M217.4 42.4 C217.4 36 219 34.5 224 34.5 L266.5 34.5 C269.5 34.5 271 33 272.1 30.2 C273.2 33 274.7 34.5 277.7 34.5 L319.2 34.5 C324.2 34.5 325.8 36 325.8 42.4" stroke="#000" stroke-width="1" fill="none"/>
<text x="272.1" y="27.1" font-size="6.2" text-anchor="middle" fill="#000" style="stroke-width:0.08px">Survival</text>
<text x="219.3" y="58.8" font-size="6.2" text-anchor="middle" fill="#000" style="stroke-width:0.08px">D0</text>
<text x="325.1" y="59.7" font-size="6.2" text-anchor="middle" fill="#000" style="stroke-width:0.08px">D7</text>
<path d="M218.5 126 V117.3 H256.3 V126" stroke="#000" stroke-width="1.1" fill="none"/>
<path d="M218.5 117.3 C218.5 113.5 219.5 112.6 222.5 112.6 L232.5 112.6 C234.5 112.6 235.2 111.5 236 108.6 C236.8 111.5 237.5 112.6 239.5 112.6 L252.3 112.6 C255.3 112.6 256.3 113.5 256.3 117.3" stroke="#000" stroke-width="1" fill="none"/>
<text x="209.7" y="96.1" font-size="6.2" text-anchor="start" fill="#000" style="stroke-width:0.08px">Body weight, CFU, HE, lung weight,</text>
<text x="211.9" y="103.1" font-size="6.2" text-anchor="start" fill="#000" style="stroke-width:0.08px">inflammtory infiltration, etc.</text>
<text x="220" y="135.2" font-size="6.2" text-anchor="middle" fill="#000" style="stroke-width:0.08px">D0</text>
<text x="257.9" y="135.2" font-size="6.2" text-anchor="middle" fill="#000" style="stroke-width:0.08px">D1</text>
<defs><clipPath id="clL"><path d="M85.3 159.6 C78 162 72 168 69.6 171 C65 178 62.5 181 60.8 185 C57 193 55 198 53.8 202.6 C51 210 49.5 215 47.7 220 C45 228 43 232 41.5 237.6 C40.5 242 39.5 245 38.9 248.1 C43 244.5 46.5 242.5 50.3 241 C55 238 59 236.5 62.6 235.8 C67 235 70.5 234.5 73 234 C74.5 231 75.5 228 76 227 C77.5 229.5 80 232 85.3 232.3 C91 232 95 231 97.6 230.6 C101.5 229.5 104 228.5 105.5 227 C107 224 107.5 222 107.2 220 C106.8 213 106 207 105.5 202.6 C104.5 196 103.8 190 102.8 185 C101 178 99.5 173 97.6 169.3 C96 166 94.5 163.5 92.3 161.4 C90 159.5 87.5 159 85.3 159.6 Z"/></clipPath><clipPath id="clR"><path d="M204.1 151.4 C201 153 199 154.5 197.1 155.8 C194.5 157.5 192 158.8 190.1 160.1 C186.5 161.5 183.5 162 181.3 162.8 C179.5 166 178.5 169 177.8 171.5 C175.8 176.5 174 181 172.6 185.5 C170.5 190 169 194 167.3 197.8 C165.5 202 163.5 206 162 210 C160.5 214 159.3 218 158.5 222.3 C158.2 226.5 158.8 230.5 159.4 234.6 C160.3 239 161.5 243.5 162.9 246.9 C165 244.5 167 243 169 241.6 C172.5 239.5 176 238 179.6 236.4 C184 234.5 189 232.5 193.6 231.1 C198.5 229.8 203 228.5 207.6 227.6 C211 226.8 214 225.5 216.4 224.1 C218.5 221 219.2 217 219 213.6 C218.8 208 218.5 203 218.1 197.8 C217.5 192 216.5 186 215.5 180.3 C214.7 174 213.8 168 212.9 162.8 C212 159.5 210.8 156.5 209.3 154 C207.8 152 206 151 204.1 151.4 Z"/></clipPath><clipPath id="cbL"><rect x="29.8" y="262.6" width="94.8" height="69.2"/></clipPath><clipPath id="cbR"><rect x="138.8" y="262.6" width="96.7" height="69.2"/></clipPath><radialGradient id="lgL" cx="0.62" cy="0.42" r="0.62"><stop offset="0" stop-color="#d884d5"/><stop offset="0.6" stop-color="#e0a2de"/><stop offset="1" stop-color="#f0d2ef"/></radialGradient></defs>
<defs><filter id="lace" x="0" y="0" width="1" height="1" color-interpolation-filters="sRGB"><feTurbulence type="fractalNoise" baseFrequency="0.6" numOctaves="3" seed="5" result="n"/><feColorMatrix in="n" type="matrix" values="0 0 0 0 0  0 0 0 0 0  0 0 0 0 0  2.5 0 0 0 -0.75" result="a"/><feComponentTransfer in="a" result="t"><feFuncA type="discrete" tableValues="0 0 0 0 0 1 1 1 1 1"/></feComponentTransfer><feFlood flood-color="#d57fd3"/><feComposite in2="t" operator="in"/><feGaussianBlur stdDeviation="0.3"/></filter><filter id="spL" x="0" y="0" width="1" height="1" color-interpolation-filters="sRGB"><feTurbulence type="fractalNoise" baseFrequency="0.7" numOctaves="2" seed="8" result="n"/><feColorMatrix in="n" type="matrix" values="0 0 0 0 0  0 0 0 0 0  0 0 0 0 0  3.0 0 0 0 -1.0" result="a"/><feComponentTransfer in="a" result="t"><feFuncA type="discrete" tableValues="0 0 0 0 0 0 0 0 1 1"/></feComponentTransfer><feFlood flood-color="#e4a6e0"/><feComposite in2="t" operator="in"/><feGaussianBlur stdDeviation="0.3"/></filter><filter id="spD" x="0" y="0" width="1" height="1" color-interpolation-filters="sRGB"><feTurbulence type="fractalNoise" baseFrequency="0.7" numOctaves="2" seed="3" result="n"/><feColorMatrix in="n" type="matrix" values="0 0 0 0 0  0 0 0 0 0  0 0 0 0 0  3.0 0 0 0 -1.0" result="a"/><feComponentTransfer in="a" result="t"><feFuncA type="discrete" tableValues="0 0 0 0 0 0 0 0 0 1"/></feComponentTransfer><feFlood flood-color="#a83eab"/><feComposite in2="t" operator="in"/><feGaussianBlur stdDeviation="0.3"/></filter><filter id="spW" x="0" y="0" width="1" height="1" color-interpolation-filters="sRGB"><feTurbulence type="fractalNoise" baseFrequency="1.1" numOctaves="2" seed="11" result="n"/><feColorMatrix in="n" type="matrix" values="0 0 0 0 0  0 0 0 0 0  0 0 0 0 0  3.0 0 0 0 -1.0" result="a"/><feComponentTransfer in="a" result="t"><feFuncA type="discrete" tableValues="0 0 0 0 0 0 0 1 1 1"/></feComponentTransfer><feFlood flood-color="#f8ecf8"/><feComposite in2="t" operator="in"/><feGaussianBlur stdDeviation="0.3"/></filter><filter id="spM" x="0" y="0" width="1" height="1" color-interpolation-filters="sRGB"><feTurbulence type="fractalNoise" baseFrequency="0.6" numOctaves="2" seed="4" result="n"/><feColorMatrix in="n" type="matrix" values="0 0 0 0 0  0 0 0 0 0  0 0 0 0 0  3.0 0 0 0 -1.0" result="a"/><feComponentTransfer in="a" result="t"><feFuncA type="discrete" tableValues="0 0 0 0 0 0 0 0 0 1"/></feComponentTransfer><feFlood flood-color="#c968c6"/><feComposite in2="t" operator="in"/><feGaussianBlur stdDeviation="0.3"/></filter></defs>
<path d="M85.3 159.6 C78 162 72 168 69.6 171 C65 178 62.5 181 60.8 185 C57 193 55 198 53.8 202.6 C51 210 49.5 215 47.7 220 C45 228 43 232 41.5 237.6 C40.5 242 39.5 245 38.9 248.1 C43 244.5 46.5 242.5 50.3 241 C55 238 59 236.5 62.6 235.8 C67 235 70.5 234.5 73 234 C74.5 231 75.5 228 76 227 C77.5 229.5 80 232 85.3 232.3 C91 232 95 231 97.6 230.6 C101.5 229.5 104 228.5 105.5 227 C107 224 107.5 222 107.2 220 C106.8 213 106 207 105.5 202.6 C104.5 196 103.8 190 102.8 185 C101 178 99.5 173 97.6 169.3 C96 166 94.5 163.5 92.3 161.4 C90 159.5 87.5 159 85.3 159.6 Z" stroke="#ecd0ef" stroke-width="0.6" fill="url(#lgL)"/>
<g clip-path="url(#clL)"><rect x="36" y="157" width="74" height="94" filter="url(#spW)"/></g>
<path d="M204.1 151.4 C201 153 199 154.5 197.1 155.8 C194.5 157.5 192 158.8 190.1 160.1 C186.5 161.5 183.5 162 181.3 162.8 C179.5 166 178.5 169 177.8 171.5 C175.8 176.5 174 181 172.6 185.5 C170.5 190 169 194 167.3 197.8 C165.5 202 163.5 206 162 210 C160.5 214 159.3 218 158.5 222.3 C158.2 226.5 158.8 230.5 159.4 234.6 C160.3 239 161.5 243.5 162.9 246.9 C165 244.5 167 243 169 241.6 C172.5 239.5 176 238 179.6 236.4 C184 234.5 189 232.5 193.6 231.1 C198.5 229.8 203 228.5 207.6 227.6 C211 226.8 214 225.5 216.4 224.1 C218.5 221 219.2 217 219 213.6 C218.8 208 218.5 203 218.1 197.8 C217.5 192 216.5 186 215.5 180.3 C214.7 174 213.8 168 212.9 162.8 C212 159.5 210.8 156.5 209.3 154 C207.8 152 206 151 204.1 151.4 Z" stroke="#ecd0ef" stroke-width="0.6" fill="url(#lgL)"/>
<g clip-path="url(#clR)"><rect x="156" y="149" width="66" height="100" filter="url(#spW)"/></g>
<path d="M66 201 C68 197 70 193 72 190" stroke="#fff" stroke-width="1" fill="none"/>
<path d="M80 184 C83 183.5 86 185 88 188" stroke="#fff" stroke-width="1" fill="none"/>
<path d="M78 197 C80 199 82 199 84 199" stroke="#fff" stroke-width="0.8" fill="none"/>
<path d="M68 222 C71 226 73.5 229 76.5 231" stroke="#fff" stroke-width="1.8" fill="none"/>
<path d="M186 188 C188 193 190 196 192.5 199" stroke="#fff" stroke-width="0.9" fill="none"/>
<path d="M198 190 C202 197 205 203 208 210" stroke="#fff" stroke-width="0.9" fill="none"/>
<path d="M171 212 C173 208 175.5 204 176.5 200" stroke="#fff" stroke-width="1.2" fill="none"/>
<path d="M179 201 C181 202 183 203 185 203" stroke="#fff" stroke-width="0.8" fill="none"/>
<rect x="29.8" y="262.6" width="94.8" height="69.2" stroke="none" stroke-width="0" fill="#d05fca"/>
<rect x="29.8" y="262.6" width="94.8" height="69.2" filter="url(#spD)"/>
<rect x="29.8" y="262.6" width="94.8" height="69.2" filter="url(#spL)"/>
<g clip-path="url(#cbL)" fill="#ffffff"><ellipse cx="72.0" cy="303.9" rx="2.0" ry="1.7" transform="rotate(85 72.0 303.9)"/><ellipse cx="73.1" cy="299.3" rx="2.5" ry="1.3" transform="rotate(96 73.1 299.3)"/><ellipse cx="117.7" cy="307.8" rx="2.1" ry="1.1" transform="rotate(2 117.7 307.8)"/><ellipse cx="115.4" cy="304.6" rx="1.6" ry="0.9" transform="rotate(5 115.4 304.6)"/><ellipse cx="71.7" cy="291.3" rx="1.6" ry="0.8" transform="rotate(117 71.7 291.3)"/><ellipse cx="72.9" cy="292.9" rx="3.1" ry="1.5" transform="rotate(45 72.9 292.9)"/><ellipse cx="75.1" cy="292.7" rx="1.7" ry="1.2" transform="rotate(19 75.1 292.7)"/><ellipse cx="39.5" cy="280.2" rx="0.8" ry="0.7" transform="rotate(84 39.5 280.2)"/><ellipse cx="123.2" cy="289.9" rx="0.9" ry="0.5" transform="rotate(2 123.2 289.9)"/><ellipse cx="123.8" cy="290.6" rx="0.8" ry="0.6" transform="rotate(1 123.8 290.6)"/><ellipse cx="124.0" cy="289.4" rx="1.2" ry="0.6" transform="rotate(91 124.0 289.4)"/><ellipse cx="122.9" cy="316.6" rx="1.3" ry="0.8" transform="rotate(174 122.9 316.6)"/><ellipse cx="125.9" cy="316.1" rx="2.1" ry="1.1" transform="rotate(70 125.9 316.1)"/><ellipse cx="110.9" cy="306.8" rx="1.3" ry="0.8" transform="rotate(53 110.9 306.8)"/><ellipse cx="32.7" cy="266.0" rx="2.1" ry="1.1" transform="rotate(105 32.7 266.0)"/><ellipse cx="108.1" cy="271.8" rx="1.9" ry="1.1" transform="rotate(34 108.1 271.8)"/><ellipse cx="110.6" cy="271.9" rx="1.3" ry="1.1" transform="rotate(158 110.6 271.9)"/><ellipse cx="110.0" cy="269.7" rx="1.2" ry="0.5" transform="rotate(173 110.0 269.7)"/><ellipse cx="51.3" cy="312.2" rx="1.8" ry="1.6" transform="rotate(22 51.3 312.2)"/><ellipse cx="51.3" cy="312.7" rx="1.5" ry="0.7" transform="rotate(38 51.3 312.7)"/><ellipse cx="52.9" cy="313.0" rx="1.0" ry="0.6" transform="rotate(44 52.9 313.0)"/><ellipse cx="30.5" cy="279.1" rx="1.8" ry="1.1" transform="rotate(131 30.5 279.1)"/><ellipse cx="79.0" cy="329.3" rx="1.7" ry="0.8" transform="rotate(107 79.0 329.3)"/><ellipse cx="37.3" cy="263.3" rx="1.5" ry="1.2" transform="rotate(162 37.3 263.3)"/><ellipse cx="99.3" cy="313.2" rx="2.9" ry="2.5" transform="rotate(75 99.3 313.2)"/><ellipse cx="102.0" cy="314.3" rx="2.4" ry="1.8" transform="rotate(68 102.0 314.3)"/><ellipse cx="84.0" cy="304.4" rx="1.0" ry="0.6" transform="rotate(168 84.0 304.4)"/><ellipse cx="85.6" cy="304.9" rx="1.0" ry="0.7" transform="rotate(93 85.6 304.9)"/><ellipse cx="85.1" cy="304.5" rx="0.8" ry="0.3" transform="rotate(172 85.1 304.5)"/><ellipse cx="37.7" cy="315.0" rx="1.8" ry="1.4" transform="rotate(36 37.7 315.0)"/><ellipse cx="37.2" cy="320.0" rx="2.3" ry="1.5" transform="rotate(160 37.2 320.0)"/><ellipse cx="61.1" cy="310.1" rx="1.0" ry="0.5" transform="rotate(39 61.1 310.1)"/><ellipse cx="61.5" cy="308.3" rx="1.0" ry="0.6" transform="rotate(161 61.5 308.3)"/><ellipse cx="29.2" cy="264.5" rx="3.4" ry="2.8" transform="rotate(68 29.2 264.5)"/><ellipse cx="78.7" cy="307.3" rx="1.5" ry="1.3" transform="rotate(7 78.7 307.3)"/><ellipse cx="80.2" cy="310.2" rx="1.9" ry="1.5" transform="rotate(3 80.2 310.2)"/><ellipse cx="76.8" cy="309.5" rx="1.5" ry="1.2" transform="rotate(42 76.8 309.5)"/><ellipse cx="39.7" cy="263.7" rx="2.2" ry="1.4" transform="rotate(14 39.7 263.7)"/><ellipse cx="40.2" cy="265.2" rx="1.7" ry="1.3" transform="rotate(135 40.2 265.2)"/><ellipse cx="80.6" cy="264.2" rx="1.3" ry="1.2" transform="rotate(28 80.6 264.2)"/><ellipse cx="81.6" cy="263.4" rx="1.1" ry="0.7" transform="rotate(160 81.6 263.4)"/><ellipse cx="65.6" cy="293.6" rx="1.6" ry="1.3" transform="rotate(169 65.6 293.6)"/><ellipse cx="74.7" cy="309.2" rx="1.6" ry="0.8" transform="rotate(43 74.7 309.2)"/><ellipse cx="73.1" cy="306.8" rx="1.1" ry="1.0" transform="rotate(167 73.1 306.8)"/><ellipse cx="72.6" cy="308.9" rx="0.9" ry="0.6" transform="rotate(6 72.6 308.9)"/><ellipse cx="60.5" cy="292.6" rx="1.3" ry="0.6" transform="rotate(95 60.5 292.6)"/><ellipse cx="97.2" cy="327.9" rx="2.0" ry="1.3" transform="rotate(158 97.2 327.9)"/><ellipse cx="95.7" cy="328.7" rx="2.0" ry="1.3" transform="rotate(100 95.7 328.7)"/><ellipse cx="96.8" cy="328.1" rx="1.4" ry="0.9" transform="rotate(163 96.8 328.1)"/><ellipse cx="51.1" cy="312.1" rx="3.4" ry="2.4" transform="rotate(103 51.1 312.1)"/><ellipse cx="51.1" cy="309.9" rx="2.6" ry="1.9" transform="rotate(4 51.1 309.9)"/><ellipse cx="56.4" cy="309.8" rx="2.4" ry="2.0" transform="rotate(101 56.4 309.8)"/><ellipse cx="76.0" cy="312.3" rx="1.2" ry="0.8" transform="rotate(44 76.0 312.3)"/><ellipse cx="76.1" cy="310.7" rx="1.3" ry="1.1" transform="rotate(165 76.1 310.7)"/><ellipse cx="76.2" cy="310.1" rx="1.0" ry="0.4" transform="rotate(46 76.2 310.1)"/><ellipse cx="96.1" cy="332.8" rx="0.8" ry="0.5" transform="rotate(111 96.1 332.8)"/><ellipse cx="38.6" cy="314.7" rx="1.3" ry="1.1" transform="rotate(4 38.6 314.7)"/><ellipse cx="38.7" cy="315.1" rx="1.2" ry="0.8" transform="rotate(155 38.7 315.1)"/><ellipse cx="38.4" cy="313.2" rx="0.9" ry="0.6" transform="rotate(105 38.4 313.2)"/><ellipse cx="43.6" cy="326.7" rx="1.8" ry="1.5" transform="rotate(39 43.6 326.7)"/><ellipse cx="44.1" cy="329.8" rx="1.5" ry="0.9" transform="rotate(130 44.1 329.8)"/><ellipse cx="53.7" cy="268.5" rx="1.9" ry="1.4" transform="rotate(143 53.7 268.5)"/><ellipse cx="50.8" cy="267.6" rx="2.2" ry="1.8" transform="rotate(65 50.8 267.6)"/><ellipse cx="98.4" cy="308.2" rx="1.5" ry="0.7" transform="rotate(137 98.4 308.2)"/><ellipse cx="97.5" cy="308.6" rx="1.5" ry="0.8" transform="rotate(20 97.5 308.6)"/><ellipse cx="95.7" cy="305.6" rx="1.3" ry="1.0" transform="rotate(104 95.7 305.6)"/><ellipse cx="40.7" cy="310.3" rx="1.1" ry="0.7" transform="rotate(108 40.7 310.3)"/><ellipse cx="28.7" cy="311.0" rx="2.2" ry="1.9" transform="rotate(108 28.7 311.0)"/><ellipse cx="38.5" cy="319.4" rx="1.8" ry="1.3" transform="rotate(72 38.5 319.4)"/><ellipse cx="85.2" cy="294.6" rx="3.1" ry="1.6" transform="rotate(168 85.2 294.6)"/><ellipse cx="84.2" cy="296.1" rx="2.7" ry="1.7" transform="rotate(77 84.2 296.1)"/><ellipse cx="45.1" cy="274.0" rx="1.6" ry="1.4" transform="rotate(162 45.1 274.0)"/><ellipse cx="44.3" cy="274.6" rx="1.6" ry="0.9" transform="rotate(38 44.3 274.6)"/><ellipse cx="69.2" cy="273.9" rx="1.2" ry="0.9" transform="rotate(176 69.2 273.9)"/><ellipse cx="66.5" cy="273.8" rx="1.2" ry="0.7" transform="rotate(72 66.5 273.8)"/><ellipse cx="66.6" cy="272.6" rx="1.0" ry="0.5" transform="rotate(45 66.6 272.6)"/><ellipse cx="117.1" cy="303.1" rx="2.0" ry="1.6" transform="rotate(13 117.1 303.1)"/><ellipse cx="117.2" cy="302.0" rx="1.3" ry="1.1" transform="rotate(28 117.2 302.0)"/><ellipse cx="116.6" cy="299.1" rx="1.8" ry="1.3" transform="rotate(10 116.6 299.1)"/><ellipse cx="119.7" cy="291.3" rx="1.8" ry="1.0" transform="rotate(167 119.7 291.3)"/><ellipse cx="121.4" cy="292.4" rx="1.3" ry="1.0" transform="rotate(105 121.4 292.4)"/><ellipse cx="121.3" cy="290.7" rx="2.1" ry="1.0" transform="rotate(56 121.3 290.7)"/><ellipse cx="64.5" cy="305.4" rx="2.1" ry="1.4" transform="rotate(175 64.5 305.4)"/><ellipse cx="65.5" cy="303.2" rx="2.8" ry="2.2" transform="rotate(84 65.5 303.2)"/><ellipse cx="121.5" cy="320.0" rx="1.5" ry="1.2" transform="rotate(64 121.5 320.0)"/><ellipse cx="43.0" cy="286.2" rx="1.2" ry="0.8" transform="rotate(140 43.0 286.2)"/><ellipse cx="43.3" cy="288.4" rx="1.5" ry="1.2" transform="rotate(42 43.3 288.4)"/><ellipse cx="41.3" cy="324.7" rx="2.5" ry="1.9" transform="rotate(125 41.3 324.7)"/><ellipse cx="37.2" cy="324.7" rx="1.9" ry="1.7" transform="rotate(90 37.2 324.7)"/><ellipse cx="40.1" cy="324.2" rx="2.6" ry="1.9" transform="rotate(1 40.1 324.2)"/><ellipse cx="53.5" cy="260.9" rx="0.7" ry="0.5" transform="rotate(99 53.5 260.9)"/><ellipse cx="89.1" cy="287.6" rx="1.3" ry="1.1" transform="rotate(144 89.1 287.6)"/><ellipse cx="71.5" cy="322.4" rx="2.2" ry="1.2" transform="rotate(27 71.5 322.4)"/><ellipse cx="111.2" cy="303.0" rx="1.6" ry="1.1" transform="rotate(83 111.2 303.0)"/><ellipse cx="109.3" cy="304.3" rx="1.4" ry="1.0" transform="rotate(146 109.3 304.3)"/><ellipse cx="109.8" cy="305.4" rx="1.0" ry="0.6" transform="rotate(163 109.8 305.4)"/><ellipse cx="86.3" cy="313.3" rx="1.5" ry="1.1" transform="rotate(58 86.3 313.3)"/><ellipse cx="89.1" cy="310.6" rx="1.7" ry="1.2" transform="rotate(162 89.1 310.6)"/><ellipse cx="88.1" cy="310.4" rx="1.8" ry="1.6" transform="rotate(82 88.1 310.4)"/><ellipse cx="48.2" cy="330.8" rx="2.0" ry="1.2" transform="rotate(71 48.2 330.8)"/><ellipse cx="49.0" cy="329.8" rx="2.3" ry="1.9" transform="rotate(97 49.0 329.8)"/><ellipse cx="51.7" cy="332.0" rx="1.7" ry="1.4" transform="rotate(158 51.7 332.0)"/></g>
<ellipse cx="104.2" cy="281.6" rx="7.0" ry="6.9" fill="#fff" transform="rotate(-13 104.2 281.6)"/>
<ellipse cx="51.4" cy="324.6" rx="5.9" ry="4.0" fill="#fff" transform="rotate(-28 51.4 324.6)"/>
<ellipse cx="89.7" cy="304.8" rx="3.3" ry="4.8" fill="#fff" transform="rotate(0 89.7 304.8)"/>
<ellipse cx="34.2" cy="312.9" rx="3.2" ry="3.3" fill="#fff" transform="rotate(2 34.2 312.9)"/>
<ellipse cx="101.7" cy="312.9" rx="3.7" ry="3.3" fill="#fff" transform="rotate(4 101.7 312.9)"/>
<ellipse cx="50.2" cy="271.0" rx="3.2" ry="2.2" fill="#fff" transform="rotate(27 50.2 271.0)"/>
<ellipse cx="45.5" cy="295.8" rx="2.9" ry="2.2" fill="#fff" transform="rotate(9 45.5 295.8)"/>
<ellipse cx="59.4" cy="267.3" rx="2.2" ry="1.5" fill="#fff" transform="rotate(18 59.4 267.3)"/>
<ellipse cx="119.2" cy="282.6" rx="3.7" ry="2.2" fill="#fff" transform="rotate(-26 119.2 282.6)"/>
<ellipse cx="68.2" cy="284.1" rx="3.6" ry="2.2" fill="#fff" transform="rotate(2 68.2 284.1)"/>
<ellipse cx="86.4" cy="284.1" rx="2.9" ry="2.2" fill="#fff" transform="rotate(17 86.4 284.1)"/>
<ellipse cx="118.5" cy="294.2" rx="2.9" ry="2.2" fill="#fff" transform="rotate(-24 118.5 294.2)"/>
<ellipse cx="85.7" cy="325.7" rx="3.6" ry="2.9" fill="#fff" transform="rotate(-25 85.7 325.7)"/>
<ellipse cx="74.7" cy="309.6" rx="2.9" ry="3.0" fill="#fff" transform="rotate(14 74.7 309.6)"/>
<ellipse cx="42.5" cy="284.0" rx="4.5" ry="3.0" fill="#fff" transform="rotate(23 42.5 284.0)"/>
<ellipse cx="110.0" cy="324.0" rx="3.0" ry="3.0" fill="#fff" transform="rotate(-24 110.0 324.0)"/>
<rect x="138.8" y="262.6" width="96.7" height="69.2" stroke="none" stroke-width="0" fill="#fbf2fb"/>
<rect x="138.8" y="262.6" width="96.7" height="69.2" filter="url(#lace)"/>
<g clip-path="url(#cbR)" fill="#c062c8"><ellipse cx="177.0" cy="265.8" rx="2.1" ry="1.6" transform="rotate(44 177.0 265.8)"/><ellipse cx="150.9" cy="290.6" rx="1.8" ry="1.5" transform="rotate(70 150.9 290.6)"/><ellipse cx="158.3" cy="298.7" rx="2.0" ry="1.3" transform="rotate(96 158.3 298.7)"/><ellipse cx="182.4" cy="288.3" rx="2.4" ry="1.4" transform="rotate(148 182.4 288.3)"/><ellipse cx="179.0" cy="294.1" rx="2.2" ry="2.0" transform="rotate(159 179.0 294.1)"/><ellipse cx="197.3" cy="285.6" rx="1.8" ry="1.4" transform="rotate(144 197.3 285.6)"/><ellipse cx="163.6" cy="276.8" rx="1.2" ry="1.0" transform="rotate(178 163.6 276.8)"/><ellipse cx="160.7" cy="266.7" rx="1.3" ry="0.8" transform="rotate(52 160.7 266.7)"/><ellipse cx="198.1" cy="262.4" rx="1.5" ry="0.6" transform="rotate(116 198.1 262.4)"/><ellipse cx="185.9" cy="267.2" rx="1.1" ry="0.7" transform="rotate(105 185.9 267.2)"/><ellipse cx="194.3" cy="261.5" rx="1.2" ry="0.5" transform="rotate(39 194.3 261.5)"/><ellipse cx="151.8" cy="288.7" rx="1.9" ry="0.9" transform="rotate(33 151.8 288.7)"/><ellipse cx="154.7" cy="266.9" rx="2.1" ry="1.2" transform="rotate(98 154.7 266.9)"/><ellipse cx="188.5" cy="279.2" rx="1.4" ry="1.3" transform="rotate(164 188.5 279.2)"/><ellipse cx="158.6" cy="281.9" rx="2.4" ry="1.6" transform="rotate(39 158.6 281.9)"/><ellipse cx="140.1" cy="297.9" rx="2.2" ry="1.3" transform="rotate(94 140.1 297.9)"/><ellipse cx="169.5" cy="271.0" rx="2.5" ry="1.9" transform="rotate(42 169.5 271.0)"/><ellipse cx="137.7" cy="278.9" rx="1.6" ry="1.3" transform="rotate(128 137.7 278.9)"/></g>
<g clip-path="url(#cbR)" fill="#ffffff"><ellipse cx="196.6" cy="272.8" rx="1.3" ry="0.7" transform="rotate(133 196.6 272.8)"/><ellipse cx="198.0" cy="271.7" rx="0.8" ry="0.6" transform="rotate(32 198.0 271.7)"/><ellipse cx="156.2" cy="327.1" rx="1.3" ry="0.6" transform="rotate(86 156.2 327.1)"/><ellipse cx="183.0" cy="332.0" rx="1.6" ry="1.4" transform="rotate(16 183.0 332.0)"/><ellipse cx="185.3" cy="329.4" rx="1.7" ry="1.2" transform="rotate(28 185.3 329.4)"/><ellipse cx="185.4" cy="329.9" rx="1.5" ry="0.7" transform="rotate(55 185.4 329.9)"/><ellipse cx="182.4" cy="313.5" rx="1.5" ry="1.2" transform="rotate(141 182.4 313.5)"/><ellipse cx="182.3" cy="312.7" rx="1.7" ry="1.3" transform="rotate(85 182.3 312.7)"/><ellipse cx="183.0" cy="311.5" rx="1.6" ry="1.4" transform="rotate(152 183.0 311.5)"/><ellipse cx="208.6" cy="326.8" rx="1.0" ry="0.6" transform="rotate(70 208.6 326.8)"/><ellipse cx="209.4" cy="326.0" rx="0.9" ry="0.7" transform="rotate(59 209.4 326.0)"/><ellipse cx="210.2" cy="326.9" rx="1.3" ry="0.8" transform="rotate(148 210.2 326.9)"/><ellipse cx="146.6" cy="269.5" rx="0.8" ry="0.4" transform="rotate(83 146.6 269.5)"/><ellipse cx="146.8" cy="269.3" rx="0.7" ry="0.6" transform="rotate(78 146.8 269.3)"/><ellipse cx="147.0" cy="270.0" rx="1.2" ry="1.1" transform="rotate(25 147.0 270.0)"/><ellipse cx="156.7" cy="270.5" rx="1.2" ry="0.8" transform="rotate(125 156.7 270.5)"/><ellipse cx="159.9" cy="272.4" rx="2.0" ry="1.5" transform="rotate(3 159.9 272.4)"/><ellipse cx="170.4" cy="283.9" rx="1.6" ry="0.9" transform="rotate(18 170.4 283.9)"/><ellipse cx="208.6" cy="278.1" rx="1.6" ry="0.8" transform="rotate(128 208.6 278.1)"/><ellipse cx="210.5" cy="278.9" rx="1.9" ry="1.5" transform="rotate(35 210.5 278.9)"/><ellipse cx="230.4" cy="306.3" rx="1.1" ry="0.7" transform="rotate(16 230.4 306.3)"/></g>
<ellipse cx="158.2" cy="270.2" rx="3.7" ry="4.4" fill="#fff"/>
<ellipse cx="151.2" cy="288.9" rx="1.8" ry="2.5" fill="#fff"/>
<ellipse cx="198.3" cy="318.4" rx="5.8" ry="5.8" fill="#fff"/>
<ellipse cx="229.7" cy="320.6" rx="5.1" ry="5.1" fill="#fff"/>
<ellipse cx="155.2" cy="322.0" rx="3.7" ry="3.7" fill="#fff"/>
<ellipse cx="178.6" cy="298.7" rx="2.2" ry="2.2" fill="#fff"/>
<ellipse cx="213.0" cy="325.0" rx="3.0" ry="3.0" fill="#fff"/>
<ellipse cx="171.0" cy="326.0" rx="3.0" ry="3.0" fill="#fff"/>
<rect x="29.8" y="262.6" width="94.8" height="69.2" stroke="#000" stroke-width="1.7" fill="none"/>
<rect x="138.8" y="262.6" width="96.7" height="69.2" stroke="#000" stroke-width="1.7" fill="none"/>
<rect x="79.2" y="202" width="14.5" height="10.2" stroke="#000" stroke-width="1.2" fill="none"/>
<rect x="188.7" y="207.4" width="14.5" height="9.7" stroke="#000" stroke-width="1.2" fill="none"/>
<line x1="79.2" y1="212.2" x2="29.8" y2="262.6" stroke="#000" stroke-width="1.5"/>
<line x1="93.7" y1="212.2" x2="124.6" y2="262.6" stroke="#000" stroke-width="1.5"/>
<line x1="188.7" y1="217.1" x2="138.8" y2="262.6" stroke="#000" stroke-width="1.5"/>
<line x1="203.2" y1="217.1" x2="235.5" y2="262.6" stroke="#000" stroke-width="1.5"/>
<line x1="14.4" y1="251.3" x2="34.5" y2="251.3" stroke="#555" stroke-width="0.4"/>
<line x1="14.4" y1="250.1" x2="14.4" y2="251.8" stroke="#555" stroke-width="0.3"/>
<line x1="24.45" y1="250.1" x2="24.45" y2="251.8" stroke="#555" stroke-width="0.3"/>
<line x1="34.5" y1="250.1" x2="34.5" y2="251.8" stroke="#555" stroke-width="0.3"/>
<text x="24.45" y="249.7" font-size="2.4" text-anchor="middle" font-weight="normal" fill="#777" style="stroke-width:0">2000 μm</text>
<line x1="121.8" y1="251.2" x2="141.4" y2="251.2" stroke="#555" stroke-width="0.4"/>
<line x1="121.8" y1="250" x2="121.8" y2="251.7" stroke="#555" stroke-width="0.3"/>
<line x1="131.6" y1="250" x2="131.6" y2="251.7" stroke="#555" stroke-width="0.3"/>
<line x1="141.4" y1="250" x2="141.4" y2="251.7" stroke="#555" stroke-width="0.3"/>
<text x="131.6" y="249.6" font-size="2.4" text-anchor="middle" font-weight="normal" fill="#777" style="stroke-width:0">2000 μm</text>
<rect x="35.3" y="278.2" width="21.2" height="12.2" stroke="#000" stroke-width="1.2" fill="none"/>
<rect x="49.6" y="303.4" width="14.2" height="9.2" stroke="#000" stroke-width="1" fill="none" stroke-dasharray="1.6 1"/>
<rect x="103.5" y="318.1" width="13.5" height="11.7" stroke="#000" stroke-width="1" fill="none" stroke-dasharray="1.6 1"/>
<line x1="69.6" y1="267.3" x2="62.89" y2="272.12" stroke="#000" stroke-width="1"/>
<path d="M57.2 276.2 L60.61 268.95 L65.16 275.29 Z" stroke="#000" stroke-width="0.2" fill="#000"/>
<line x1="78.4" y1="292.8" x2="72.46" y2="297.8" stroke="#000" stroke-width="1"/>
<path d="M67.1 302.3 L69.95 294.81 L74.97 300.78 Z" stroke="#000" stroke-width="0.2" fill="#000"/>
<line x1="123.6" y1="306.7" x2="117.58" y2="311.27" stroke="#000" stroke-width="1"/>
<path d="M112 315.5 L115.22 308.16 L119.93 314.38 Z" stroke="#000" stroke-width="0.2" fill="#000"/>
<rect x="143.6" y="294.3" width="21.9" height="12.1" stroke="#000" stroke-width="1.2" fill="none"/>
<rect x="172.3" y="293.6" width="13.6" height="9" stroke="#000" stroke-width="1" fill="none" stroke-dasharray="1.6 1"/>
<rect x="199" y="297.2" width="13.6" height="11" stroke="#000" stroke-width="1" fill="none" stroke-dasharray="1.6 1"/>
<line x1="171.3" y1="283.4" x2="163.97" y2="288.44" stroke="#000" stroke-width="1"/>
<path d="M158.2 292.4 L161.76 285.22 L166.18 291.65 Z" stroke="#000" stroke-width="0.2" fill="#000"/>
<line x1="199.8" y1="284.1" x2="194.39" y2="288.18" stroke="#000" stroke-width="1"/>
<path d="M188.8 292.4 L192.04 285.07 L196.74 291.3 Z" stroke="#000" stroke-width="0.2" fill="#000"/>
<line x1="226" y1="286.3" x2="220.57" y2="290.63" stroke="#000" stroke-width="1"/>
<path d="M215.1 295 L218.14 287.59 L223 293.68 Z" stroke="#000" stroke-width="0.2" fill="#000"/>
<text x="75.3" y="346.2" font-size="9.9" text-anchor="middle" fill="#000">PAO1</text>
<text x="186.8" y="345.2" font-size="9.8" text-anchor="middle" fill="#000">PAO1+CBR-5884</text>
</svg>
</body></html>
